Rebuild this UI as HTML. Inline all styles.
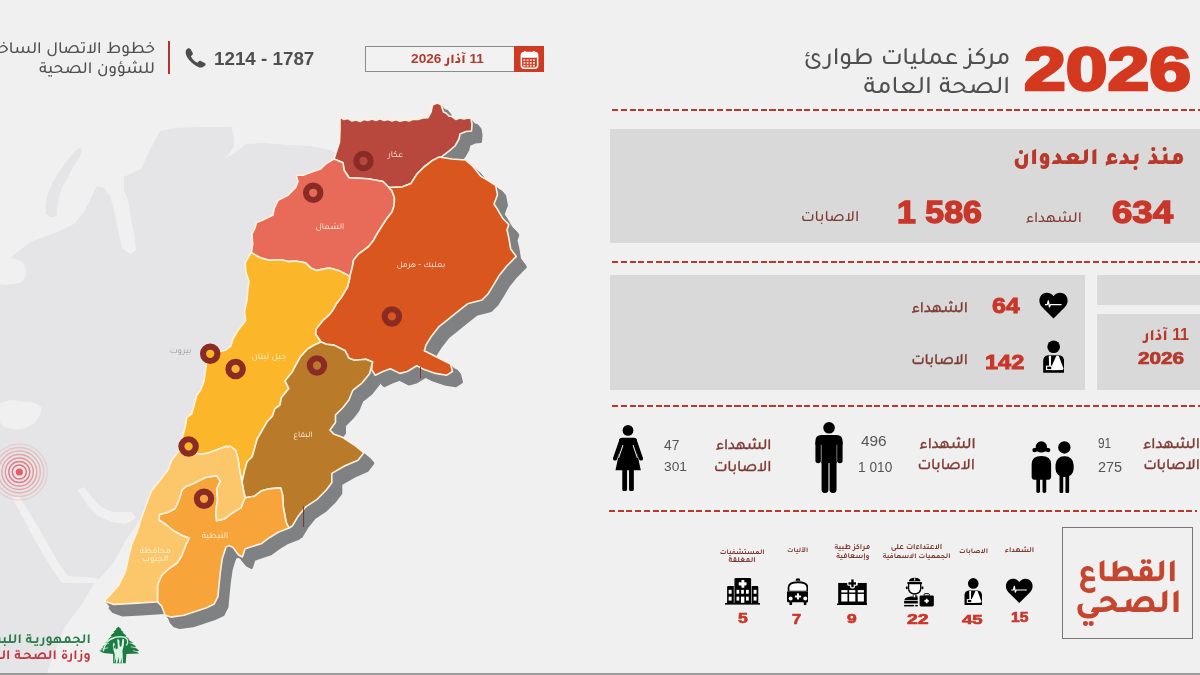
<!DOCTYPE html>
<html lang="ar">
<head>
<meta charset="utf-8">
<title>مركز عمليات طوارئ الصحة العامة</title>
<style>
html,body{margin:0;padding:0;}
body{width:1200px;height:675px;overflow:hidden;position:relative;background:#f0f0f0;
  font-family:"Liberation Sans","Tajawal","Noto Sans Arabic","DejaVu Sans",sans-serif;}
.a{position:absolute;white-space:nowrap;line-height:1;}
.r{direction:rtl;}
.box{position:absolute;background:#d9d9d9;}
.dash{position:absolute;left:612px;width:588px;height:2px;
  background:repeating-linear-gradient(90deg,#b5392d 0,#b5392d 6px,transparent 6px,transparent 8.75px);}
.num{font-weight:700;color:#c9372a;}
.lab{color:#7d3a33;font-weight:500;}
.g{color:#555;}
.dg{-webkit-text-stroke:0.045em currentColor;}
svg{position:absolute;left:0;top:0;}
</style>
</head>
<body>
<!--MAPSTART--><svg width="620" height="675" viewBox="0 0 620 675">
<g fill="#e5e5e7">
<path d="M0,266 L30,242 L60,231 L74,224 L84,212 L90,200 L97,186 L104,188 L110,196 L114,210 L118,230 L122,248 L130,254 L136,250 L134,232 L130,214 L128,200 L124,190 L124,177 L134,172 L142,168 L146,158 L152,146 L160,131 L175,128 L200,127 L231,127 L234,138 L234,146 L226,158 L236,152 L246,144 L262,143 L290,145 L310,146 L330,150 L345,160 L330,260 L250,330 L220,400 L180,450 L140,520 L126,540 L114,562 L102,576 L94,584 L82,604 L64,628 L46,675 L0,675 Z"/>
<path d="M77,149 Q84,146 80,156 Q70,172 62,188 Q56,205 57,215 Q52,220 46,214 Q44,200 52,184 Q62,165 77,149 Z"/>
</g>
<g fill="#f0f0f0">
<path d="M0,403 Q10,398 22,402 Q34,400 42,408 Q40,420 30,426 Q18,432 8,428 Q0,426 0,420 Z"/>
<path d="M0,258 Q12,256 22,262 Q30,272 22,282 Q10,286 0,284 Z"/>
<path d="M12,497 L19,496 L40,530 L58,562 L68,576 L97,578 L98,583 L62,583 L50,566 L32,535 Z"/>
<path d="M78,490 L84,487 L92,497 L100,506 L112,512 L124,512 L132,512 L136,518 L126,524 L112,522 L98,516 L88,506 Z"/>
</g>
<g fill="none" stroke-width="1.4">
<circle cx="19.3" cy="472" r="7" stroke="#e25b63" stroke-opacity="0.85"/>
<circle cx="19.3" cy="472" r="10.5" stroke="#e25b63" stroke-opacity="0.75"/>
<circle cx="19.3" cy="472" r="14" stroke="#e25b63" stroke-opacity="0.6"/>
<circle cx="19.3" cy="472" r="17.5" stroke="#e25b63" stroke-opacity="0.48"/>
<circle cx="19.3" cy="472" r="21" stroke="#e25b63" stroke-opacity="0.36"/>
<circle cx="19.3" cy="472" r="24.5" stroke="#e25b63" stroke-opacity="0.25"/>
<circle cx="19.3" cy="472" r="28" stroke="#e25b63" stroke-opacity="0.15"/>
</g>
<circle cx="19.3" cy="472" r="3.6" fill="#e45d66"/>
<g fill="#7f8183">
<polygon transform="translate(1.00,1.17)" points="340,117 344,119.5 348,118.5 352,121 356,120 360,121.5 364,119.5 368,120.5 372,119 376,120.5 380,118.8 384,120.5 388,119.5 392,121 396,119.8 400,121.2 405,120 409,121 413,119.3 418,119.5 423,118 428,117.6 431,112 432.5,105 437,103 441,104.5 443.5,112 446,113 449,116 452,116.5 456,119.5 460,118 464,119 468,118 471,118.5 472,124 471.5,131 466,131.5 460,134 459,139 455,146 448.6,151.4 440.8,157.3 432,160.8 424,167 417,174 411,183.4 402,187 389,187.5 383,181.5 368,178.7 349,177.8 344,170 343,162.7 334,159 337,150 339.5,142 340,130"/>
<polygon transform="translate(1.00,1.17)" points="334,159 343,162.7 344,170 349,177.8 368,178.7 383,181.5 389,187.5 392,191 394.5,198 394,206 392,212 386.5,219 382,226 377,234 373.6,240.2 368.6,246.5 363.5,250.3 358.5,254 353.5,260.3 352.2,267.9 349.7,276.7 345.9,274.2 338.4,270.4 329.5,267.9 317,270.4 310.6,267.9 305.6,262.9 295.5,261 288,261.6 281.7,259.7 269,260.3 260.3,257.8 251.4,252.8 252.7,244 252,234 255.2,227.6 256.5,222.6 262.8,220 269,217 273,215 274,209 278,200.4 288,195.3 295.5,187.8 298,181.5 296.2,175.2 303,175.2 313.2,171.4 320.7,168.9 325.8,163.9"/>
<polygon transform="translate(1.00,1.17)" points="389,187.5 402,187 411,183.4 417,174 424,167 432,160.8 439,157 452,159 465.5,160 473,166.5 480.6,176 489,181 495.6,185.3 497.5,194.7 494,204 497.5,209.4 503,218.8 508.8,224.5 507,230 508.8,237.6 510.7,249 516.3,256.4 507,265.8 499.4,275.2 493.8,284.7 488,294 482,300 467.5,303.8 458,311.3 448.7,318.8 439.3,326.3 431.8,335.7 426,345 424.3,350.8 431.8,354.5 443,360.2 450.6,364 452.5,371.5 446.8,375.2 435.5,373.4 424.3,369.6 416.7,365.8 407.3,371.5 399.8,373.4 390.4,368.7 382.9,371.5 375.3,375.2 371.6,369.6 372.5,362 366,359.3 354.6,360.2 349,358.3 345.2,350.8 334,345.1 326.4,344.2 321,342 315.5,334 316,329 322.7,320.7 328.7,315.2 332,311.3 336.2,304 341.9,296.4 347.5,287 349.4,279.5 349.7,276.7 352.2,267.9 353.5,260.3 358.5,254 363.5,250.3 368.6,246.5 373.6,240.2 377,234 382,226 386.5,219 392,212 394,206 394.5,198 392,191"/>
<polygon transform="translate(1.00,1.17)" points="251.4,252.8 260.3,257.8 269,260.3 281.7,259.7 288,261.6 295.5,261 305.6,262.9 310.6,267.9 317,270.4 329.5,267.9 338.4,270.4 345.9,274.2 349.7,276.7 349.4,279.5 347.5,287 341.9,296.4 336.2,304 332,311.3 328.7,315.2 322.7,320.7 316,329 315.5,334 321,342 313.7,345.3 307.6,349 300.5,356.6 294.8,367 292.6,371.5 285,380.9 288.8,388.4 281.3,397.8 280,405 274.8,408.9 272.3,416.4 267.3,421.4 262.2,430.3 257.2,439 254.7,447.9 252.2,456.7 247.1,461.8 244.6,470.6 242,482 239.6,470.6 238.3,460.5 235.8,450.4 230.8,446.6 225.7,446.6 218.2,449.2 208,453 200.5,454.2 193,453 186,451 179.5,450 180.4,442.9 182.9,435.3 185.4,426.5 186.7,417.7 191.7,413.9 194.2,405 196.8,395 200.4,390.5 204.2,380.5 205.4,370.4 206.7,361.6 210,355 219.3,351.5 225.6,350.2 230.6,346.4 233.1,338.9 238.2,330 245.7,320.5 244.5,311.5 247,300 247.7,290.6 249,281.7 245.8,271.7 245.2,262.9 250.2,254"/>
<polygon transform="translate(1.00,1.17)" points="321,342 326.4,344.2 334,345.1 345.2,350.8 349,358.3 354.6,360.2 366,359.3 372.5,362 369.7,373.4 362.2,382.8 352.8,390.3 349,399.7 343,407.5 335.5,415 335.5,422.6 329.9,430 333.7,433.9 343,437.6 354.3,445 363.8,452.7 358,460.2 345,465.8 331.8,473.4 331.8,482.8 326.1,490.3 316.7,499.7 305.4,507.2 297.9,516.6 292.3,526 289,528 286.2,522.7 283.4,507.6 282.5,494.5 280.6,487.9 269.3,488.8 261.8,490.7 254.2,496.3 245.2,497.8 243.4,490 242,482 244.6,470.6 247.1,461.8 252.2,456.7 254.7,447.9 257.2,439 262.2,430.3 267.3,421.4 272.3,416.4 274.8,408.9 280,405 281.3,397.8 288.8,388.4 285,380.9 292.6,371.5 294.8,367 300.5,356.6 307.6,349 313.7,345.3"/>
<polygon transform="translate(1.00,1.17)" points="216.6,475.6 220.4,481.3 216.6,488.8 217.6,500 215.7,511.4 216.6,520.8 224.2,519 231.7,513.3 241,507.6 244.8,498.2 245.2,497.8 254.2,496.3 261.8,490.7 269.3,488.8 280.6,487.9 282.5,494.5 283.4,507.6 286.2,522.7 289,528 278.7,532 269.3,537.7 261.8,543.4 250.5,547.1 245,549 242.4,557 238.6,555 233,547.5 229.2,545.6 226,547.1 222.3,558.4 220.4,571.6 219,585 218,596.4 214.2,604 206.6,607.7 195.3,611.5 184,615.2 170.9,617.1 165.2,615.2 161.5,605.8 157.5,602 157.5,585 161.5,575.5 169,568.5 177,563 181.5,556 185.5,546 189,538 182.5,535.8 173,530.5 165.8,524.5 159,520 159.5,514.5 168,512.3 175,508.5 179,500 182,490 186,486.5 194,483.2 205.3,477.5"/>
<polygon transform="translate(1.00,1.17)" points="179.5,450 186,451 193,453 200.5,454.2 208,453 218.2,449.2 225.7,446.6 230.8,446.6 235.8,450.4 238.3,460.5 239.6,470.6 242,482 243.4,490 245.2,497.8 244.8,498.2 241,507.6 231.7,513.3 224.2,519 216.6,520.8 215.7,511.4 217.6,500 216.6,488.8 220.4,481.3 216.6,475.6 205.3,477.5 194,483.2 186,486.5 182,490 179,500 175,508.5 168,512.3 159.5,514.5 159,520 165.8,524.5 173,530.5 182.5,535.8 189,538 185.5,546 181.5,556 177,563 169,568.5 161.5,575.5 157.5,585 157.5,602 151.6,602.2 132.7,603.4 113.7,604.5 104.2,601 109,596.3 118.4,585.6 125.5,571.4 129.1,554.8 131.5,545.3 137.4,531 141,519.2 146.9,502.7 151.6,490.8 161,479 168.2,469.5 171.8,460 175.3,455.5"/>
<polygon transform="translate(2.00,2.34)" points="340,117 344,119.5 348,118.5 352,121 356,120 360,121.5 364,119.5 368,120.5 372,119 376,120.5 380,118.8 384,120.5 388,119.5 392,121 396,119.8 400,121.2 405,120 409,121 413,119.3 418,119.5 423,118 428,117.6 431,112 432.5,105 437,103 441,104.5 443.5,112 446,113 449,116 452,116.5 456,119.5 460,118 464,119 468,118 471,118.5 472,124 471.5,131 466,131.5 460,134 459,139 455,146 448.6,151.4 440.8,157.3 432,160.8 424,167 417,174 411,183.4 402,187 389,187.5 383,181.5 368,178.7 349,177.8 344,170 343,162.7 334,159 337,150 339.5,142 340,130"/>
<polygon transform="translate(2.00,2.34)" points="334,159 343,162.7 344,170 349,177.8 368,178.7 383,181.5 389,187.5 392,191 394.5,198 394,206 392,212 386.5,219 382,226 377,234 373.6,240.2 368.6,246.5 363.5,250.3 358.5,254 353.5,260.3 352.2,267.9 349.7,276.7 345.9,274.2 338.4,270.4 329.5,267.9 317,270.4 310.6,267.9 305.6,262.9 295.5,261 288,261.6 281.7,259.7 269,260.3 260.3,257.8 251.4,252.8 252.7,244 252,234 255.2,227.6 256.5,222.6 262.8,220 269,217 273,215 274,209 278,200.4 288,195.3 295.5,187.8 298,181.5 296.2,175.2 303,175.2 313.2,171.4 320.7,168.9 325.8,163.9"/>
<polygon transform="translate(2.00,2.34)" points="389,187.5 402,187 411,183.4 417,174 424,167 432,160.8 439,157 452,159 465.5,160 473,166.5 480.6,176 489,181 495.6,185.3 497.5,194.7 494,204 497.5,209.4 503,218.8 508.8,224.5 507,230 508.8,237.6 510.7,249 516.3,256.4 507,265.8 499.4,275.2 493.8,284.7 488,294 482,300 467.5,303.8 458,311.3 448.7,318.8 439.3,326.3 431.8,335.7 426,345 424.3,350.8 431.8,354.5 443,360.2 450.6,364 452.5,371.5 446.8,375.2 435.5,373.4 424.3,369.6 416.7,365.8 407.3,371.5 399.8,373.4 390.4,368.7 382.9,371.5 375.3,375.2 371.6,369.6 372.5,362 366,359.3 354.6,360.2 349,358.3 345.2,350.8 334,345.1 326.4,344.2 321,342 315.5,334 316,329 322.7,320.7 328.7,315.2 332,311.3 336.2,304 341.9,296.4 347.5,287 349.4,279.5 349.7,276.7 352.2,267.9 353.5,260.3 358.5,254 363.5,250.3 368.6,246.5 373.6,240.2 377,234 382,226 386.5,219 392,212 394,206 394.5,198 392,191"/>
<polygon transform="translate(2.00,2.34)" points="251.4,252.8 260.3,257.8 269,260.3 281.7,259.7 288,261.6 295.5,261 305.6,262.9 310.6,267.9 317,270.4 329.5,267.9 338.4,270.4 345.9,274.2 349.7,276.7 349.4,279.5 347.5,287 341.9,296.4 336.2,304 332,311.3 328.7,315.2 322.7,320.7 316,329 315.5,334 321,342 313.7,345.3 307.6,349 300.5,356.6 294.8,367 292.6,371.5 285,380.9 288.8,388.4 281.3,397.8 280,405 274.8,408.9 272.3,416.4 267.3,421.4 262.2,430.3 257.2,439 254.7,447.9 252.2,456.7 247.1,461.8 244.6,470.6 242,482 239.6,470.6 238.3,460.5 235.8,450.4 230.8,446.6 225.7,446.6 218.2,449.2 208,453 200.5,454.2 193,453 186,451 179.5,450 180.4,442.9 182.9,435.3 185.4,426.5 186.7,417.7 191.7,413.9 194.2,405 196.8,395 200.4,390.5 204.2,380.5 205.4,370.4 206.7,361.6 210,355 219.3,351.5 225.6,350.2 230.6,346.4 233.1,338.9 238.2,330 245.7,320.5 244.5,311.5 247,300 247.7,290.6 249,281.7 245.8,271.7 245.2,262.9 250.2,254"/>
<polygon transform="translate(2.00,2.34)" points="321,342 326.4,344.2 334,345.1 345.2,350.8 349,358.3 354.6,360.2 366,359.3 372.5,362 369.7,373.4 362.2,382.8 352.8,390.3 349,399.7 343,407.5 335.5,415 335.5,422.6 329.9,430 333.7,433.9 343,437.6 354.3,445 363.8,452.7 358,460.2 345,465.8 331.8,473.4 331.8,482.8 326.1,490.3 316.7,499.7 305.4,507.2 297.9,516.6 292.3,526 289,528 286.2,522.7 283.4,507.6 282.5,494.5 280.6,487.9 269.3,488.8 261.8,490.7 254.2,496.3 245.2,497.8 243.4,490 242,482 244.6,470.6 247.1,461.8 252.2,456.7 254.7,447.9 257.2,439 262.2,430.3 267.3,421.4 272.3,416.4 274.8,408.9 280,405 281.3,397.8 288.8,388.4 285,380.9 292.6,371.5 294.8,367 300.5,356.6 307.6,349 313.7,345.3"/>
<polygon transform="translate(2.00,2.34)" points="216.6,475.6 220.4,481.3 216.6,488.8 217.6,500 215.7,511.4 216.6,520.8 224.2,519 231.7,513.3 241,507.6 244.8,498.2 245.2,497.8 254.2,496.3 261.8,490.7 269.3,488.8 280.6,487.9 282.5,494.5 283.4,507.6 286.2,522.7 289,528 278.7,532 269.3,537.7 261.8,543.4 250.5,547.1 245,549 242.4,557 238.6,555 233,547.5 229.2,545.6 226,547.1 222.3,558.4 220.4,571.6 219,585 218,596.4 214.2,604 206.6,607.7 195.3,611.5 184,615.2 170.9,617.1 165.2,615.2 161.5,605.8 157.5,602 157.5,585 161.5,575.5 169,568.5 177,563 181.5,556 185.5,546 189,538 182.5,535.8 173,530.5 165.8,524.5 159,520 159.5,514.5 168,512.3 175,508.5 179,500 182,490 186,486.5 194,483.2 205.3,477.5"/>
<polygon transform="translate(2.00,2.34)" points="179.5,450 186,451 193,453 200.5,454.2 208,453 218.2,449.2 225.7,446.6 230.8,446.6 235.8,450.4 238.3,460.5 239.6,470.6 242,482 243.4,490 245.2,497.8 244.8,498.2 241,507.6 231.7,513.3 224.2,519 216.6,520.8 215.7,511.4 217.6,500 216.6,488.8 220.4,481.3 216.6,475.6 205.3,477.5 194,483.2 186,486.5 182,490 179,500 175,508.5 168,512.3 159.5,514.5 159,520 165.8,524.5 173,530.5 182.5,535.8 189,538 185.5,546 181.5,556 177,563 169,568.5 161.5,575.5 157.5,585 157.5,602 151.6,602.2 132.7,603.4 113.7,604.5 104.2,601 109,596.3 118.4,585.6 125.5,571.4 129.1,554.8 131.5,545.3 137.4,531 141,519.2 146.9,502.7 151.6,490.8 161,479 168.2,469.5 171.8,460 175.3,455.5"/>
<polygon transform="translate(3.00,3.51)" points="340,117 344,119.5 348,118.5 352,121 356,120 360,121.5 364,119.5 368,120.5 372,119 376,120.5 380,118.8 384,120.5 388,119.5 392,121 396,119.8 400,121.2 405,120 409,121 413,119.3 418,119.5 423,118 428,117.6 431,112 432.5,105 437,103 441,104.5 443.5,112 446,113 449,116 452,116.5 456,119.5 460,118 464,119 468,118 471,118.5 472,124 471.5,131 466,131.5 460,134 459,139 455,146 448.6,151.4 440.8,157.3 432,160.8 424,167 417,174 411,183.4 402,187 389,187.5 383,181.5 368,178.7 349,177.8 344,170 343,162.7 334,159 337,150 339.5,142 340,130"/>
<polygon transform="translate(3.00,3.51)" points="334,159 343,162.7 344,170 349,177.8 368,178.7 383,181.5 389,187.5 392,191 394.5,198 394,206 392,212 386.5,219 382,226 377,234 373.6,240.2 368.6,246.5 363.5,250.3 358.5,254 353.5,260.3 352.2,267.9 349.7,276.7 345.9,274.2 338.4,270.4 329.5,267.9 317,270.4 310.6,267.9 305.6,262.9 295.5,261 288,261.6 281.7,259.7 269,260.3 260.3,257.8 251.4,252.8 252.7,244 252,234 255.2,227.6 256.5,222.6 262.8,220 269,217 273,215 274,209 278,200.4 288,195.3 295.5,187.8 298,181.5 296.2,175.2 303,175.2 313.2,171.4 320.7,168.9 325.8,163.9"/>
<polygon transform="translate(3.00,3.51)" points="389,187.5 402,187 411,183.4 417,174 424,167 432,160.8 439,157 452,159 465.5,160 473,166.5 480.6,176 489,181 495.6,185.3 497.5,194.7 494,204 497.5,209.4 503,218.8 508.8,224.5 507,230 508.8,237.6 510.7,249 516.3,256.4 507,265.8 499.4,275.2 493.8,284.7 488,294 482,300 467.5,303.8 458,311.3 448.7,318.8 439.3,326.3 431.8,335.7 426,345 424.3,350.8 431.8,354.5 443,360.2 450.6,364 452.5,371.5 446.8,375.2 435.5,373.4 424.3,369.6 416.7,365.8 407.3,371.5 399.8,373.4 390.4,368.7 382.9,371.5 375.3,375.2 371.6,369.6 372.5,362 366,359.3 354.6,360.2 349,358.3 345.2,350.8 334,345.1 326.4,344.2 321,342 315.5,334 316,329 322.7,320.7 328.7,315.2 332,311.3 336.2,304 341.9,296.4 347.5,287 349.4,279.5 349.7,276.7 352.2,267.9 353.5,260.3 358.5,254 363.5,250.3 368.6,246.5 373.6,240.2 377,234 382,226 386.5,219 392,212 394,206 394.5,198 392,191"/>
<polygon transform="translate(3.00,3.51)" points="251.4,252.8 260.3,257.8 269,260.3 281.7,259.7 288,261.6 295.5,261 305.6,262.9 310.6,267.9 317,270.4 329.5,267.9 338.4,270.4 345.9,274.2 349.7,276.7 349.4,279.5 347.5,287 341.9,296.4 336.2,304 332,311.3 328.7,315.2 322.7,320.7 316,329 315.5,334 321,342 313.7,345.3 307.6,349 300.5,356.6 294.8,367 292.6,371.5 285,380.9 288.8,388.4 281.3,397.8 280,405 274.8,408.9 272.3,416.4 267.3,421.4 262.2,430.3 257.2,439 254.7,447.9 252.2,456.7 247.1,461.8 244.6,470.6 242,482 239.6,470.6 238.3,460.5 235.8,450.4 230.8,446.6 225.7,446.6 218.2,449.2 208,453 200.5,454.2 193,453 186,451 179.5,450 180.4,442.9 182.9,435.3 185.4,426.5 186.7,417.7 191.7,413.9 194.2,405 196.8,395 200.4,390.5 204.2,380.5 205.4,370.4 206.7,361.6 210,355 219.3,351.5 225.6,350.2 230.6,346.4 233.1,338.9 238.2,330 245.7,320.5 244.5,311.5 247,300 247.7,290.6 249,281.7 245.8,271.7 245.2,262.9 250.2,254"/>
<polygon transform="translate(3.00,3.51)" points="321,342 326.4,344.2 334,345.1 345.2,350.8 349,358.3 354.6,360.2 366,359.3 372.5,362 369.7,373.4 362.2,382.8 352.8,390.3 349,399.7 343,407.5 335.5,415 335.5,422.6 329.9,430 333.7,433.9 343,437.6 354.3,445 363.8,452.7 358,460.2 345,465.8 331.8,473.4 331.8,482.8 326.1,490.3 316.7,499.7 305.4,507.2 297.9,516.6 292.3,526 289,528 286.2,522.7 283.4,507.6 282.5,494.5 280.6,487.9 269.3,488.8 261.8,490.7 254.2,496.3 245.2,497.8 243.4,490 242,482 244.6,470.6 247.1,461.8 252.2,456.7 254.7,447.9 257.2,439 262.2,430.3 267.3,421.4 272.3,416.4 274.8,408.9 280,405 281.3,397.8 288.8,388.4 285,380.9 292.6,371.5 294.8,367 300.5,356.6 307.6,349 313.7,345.3"/>
<polygon transform="translate(3.00,3.51)" points="216.6,475.6 220.4,481.3 216.6,488.8 217.6,500 215.7,511.4 216.6,520.8 224.2,519 231.7,513.3 241,507.6 244.8,498.2 245.2,497.8 254.2,496.3 261.8,490.7 269.3,488.8 280.6,487.9 282.5,494.5 283.4,507.6 286.2,522.7 289,528 278.7,532 269.3,537.7 261.8,543.4 250.5,547.1 245,549 242.4,557 238.6,555 233,547.5 229.2,545.6 226,547.1 222.3,558.4 220.4,571.6 219,585 218,596.4 214.2,604 206.6,607.7 195.3,611.5 184,615.2 170.9,617.1 165.2,615.2 161.5,605.8 157.5,602 157.5,585 161.5,575.5 169,568.5 177,563 181.5,556 185.5,546 189,538 182.5,535.8 173,530.5 165.8,524.5 159,520 159.5,514.5 168,512.3 175,508.5 179,500 182,490 186,486.5 194,483.2 205.3,477.5"/>
<polygon transform="translate(3.00,3.51)" points="179.5,450 186,451 193,453 200.5,454.2 208,453 218.2,449.2 225.7,446.6 230.8,446.6 235.8,450.4 238.3,460.5 239.6,470.6 242,482 243.4,490 245.2,497.8 244.8,498.2 241,507.6 231.7,513.3 224.2,519 216.6,520.8 215.7,511.4 217.6,500 216.6,488.8 220.4,481.3 216.6,475.6 205.3,477.5 194,483.2 186,486.5 182,490 179,500 175,508.5 168,512.3 159.5,514.5 159,520 165.8,524.5 173,530.5 182.5,535.8 189,538 185.5,546 181.5,556 177,563 169,568.5 161.5,575.5 157.5,585 157.5,602 151.6,602.2 132.7,603.4 113.7,604.5 104.2,601 109,596.3 118.4,585.6 125.5,571.4 129.1,554.8 131.5,545.3 137.4,531 141,519.2 146.9,502.7 151.6,490.8 161,479 168.2,469.5 171.8,460 175.3,455.5"/>
<polygon transform="translate(4.00,4.68)" points="340,117 344,119.5 348,118.5 352,121 356,120 360,121.5 364,119.5 368,120.5 372,119 376,120.5 380,118.8 384,120.5 388,119.5 392,121 396,119.8 400,121.2 405,120 409,121 413,119.3 418,119.5 423,118 428,117.6 431,112 432.5,105 437,103 441,104.5 443.5,112 446,113 449,116 452,116.5 456,119.5 460,118 464,119 468,118 471,118.5 472,124 471.5,131 466,131.5 460,134 459,139 455,146 448.6,151.4 440.8,157.3 432,160.8 424,167 417,174 411,183.4 402,187 389,187.5 383,181.5 368,178.7 349,177.8 344,170 343,162.7 334,159 337,150 339.5,142 340,130"/>
<polygon transform="translate(4.00,4.68)" points="334,159 343,162.7 344,170 349,177.8 368,178.7 383,181.5 389,187.5 392,191 394.5,198 394,206 392,212 386.5,219 382,226 377,234 373.6,240.2 368.6,246.5 363.5,250.3 358.5,254 353.5,260.3 352.2,267.9 349.7,276.7 345.9,274.2 338.4,270.4 329.5,267.9 317,270.4 310.6,267.9 305.6,262.9 295.5,261 288,261.6 281.7,259.7 269,260.3 260.3,257.8 251.4,252.8 252.7,244 252,234 255.2,227.6 256.5,222.6 262.8,220 269,217 273,215 274,209 278,200.4 288,195.3 295.5,187.8 298,181.5 296.2,175.2 303,175.2 313.2,171.4 320.7,168.9 325.8,163.9"/>
<polygon transform="translate(4.00,4.68)" points="389,187.5 402,187 411,183.4 417,174 424,167 432,160.8 439,157 452,159 465.5,160 473,166.5 480.6,176 489,181 495.6,185.3 497.5,194.7 494,204 497.5,209.4 503,218.8 508.8,224.5 507,230 508.8,237.6 510.7,249 516.3,256.4 507,265.8 499.4,275.2 493.8,284.7 488,294 482,300 467.5,303.8 458,311.3 448.7,318.8 439.3,326.3 431.8,335.7 426,345 424.3,350.8 431.8,354.5 443,360.2 450.6,364 452.5,371.5 446.8,375.2 435.5,373.4 424.3,369.6 416.7,365.8 407.3,371.5 399.8,373.4 390.4,368.7 382.9,371.5 375.3,375.2 371.6,369.6 372.5,362 366,359.3 354.6,360.2 349,358.3 345.2,350.8 334,345.1 326.4,344.2 321,342 315.5,334 316,329 322.7,320.7 328.7,315.2 332,311.3 336.2,304 341.9,296.4 347.5,287 349.4,279.5 349.7,276.7 352.2,267.9 353.5,260.3 358.5,254 363.5,250.3 368.6,246.5 373.6,240.2 377,234 382,226 386.5,219 392,212 394,206 394.5,198 392,191"/>
<polygon transform="translate(4.00,4.68)" points="251.4,252.8 260.3,257.8 269,260.3 281.7,259.7 288,261.6 295.5,261 305.6,262.9 310.6,267.9 317,270.4 329.5,267.9 338.4,270.4 345.9,274.2 349.7,276.7 349.4,279.5 347.5,287 341.9,296.4 336.2,304 332,311.3 328.7,315.2 322.7,320.7 316,329 315.5,334 321,342 313.7,345.3 307.6,349 300.5,356.6 294.8,367 292.6,371.5 285,380.9 288.8,388.4 281.3,397.8 280,405 274.8,408.9 272.3,416.4 267.3,421.4 262.2,430.3 257.2,439 254.7,447.9 252.2,456.7 247.1,461.8 244.6,470.6 242,482 239.6,470.6 238.3,460.5 235.8,450.4 230.8,446.6 225.7,446.6 218.2,449.2 208,453 200.5,454.2 193,453 186,451 179.5,450 180.4,442.9 182.9,435.3 185.4,426.5 186.7,417.7 191.7,413.9 194.2,405 196.8,395 200.4,390.5 204.2,380.5 205.4,370.4 206.7,361.6 210,355 219.3,351.5 225.6,350.2 230.6,346.4 233.1,338.9 238.2,330 245.7,320.5 244.5,311.5 247,300 247.7,290.6 249,281.7 245.8,271.7 245.2,262.9 250.2,254"/>
<polygon transform="translate(4.00,4.68)" points="321,342 326.4,344.2 334,345.1 345.2,350.8 349,358.3 354.6,360.2 366,359.3 372.5,362 369.7,373.4 362.2,382.8 352.8,390.3 349,399.7 343,407.5 335.5,415 335.5,422.6 329.9,430 333.7,433.9 343,437.6 354.3,445 363.8,452.7 358,460.2 345,465.8 331.8,473.4 331.8,482.8 326.1,490.3 316.7,499.7 305.4,507.2 297.9,516.6 292.3,526 289,528 286.2,522.7 283.4,507.6 282.5,494.5 280.6,487.9 269.3,488.8 261.8,490.7 254.2,496.3 245.2,497.8 243.4,490 242,482 244.6,470.6 247.1,461.8 252.2,456.7 254.7,447.9 257.2,439 262.2,430.3 267.3,421.4 272.3,416.4 274.8,408.9 280,405 281.3,397.8 288.8,388.4 285,380.9 292.6,371.5 294.8,367 300.5,356.6 307.6,349 313.7,345.3"/>
<polygon transform="translate(4.00,4.68)" points="216.6,475.6 220.4,481.3 216.6,488.8 217.6,500 215.7,511.4 216.6,520.8 224.2,519 231.7,513.3 241,507.6 244.8,498.2 245.2,497.8 254.2,496.3 261.8,490.7 269.3,488.8 280.6,487.9 282.5,494.5 283.4,507.6 286.2,522.7 289,528 278.7,532 269.3,537.7 261.8,543.4 250.5,547.1 245,549 242.4,557 238.6,555 233,547.5 229.2,545.6 226,547.1 222.3,558.4 220.4,571.6 219,585 218,596.4 214.2,604 206.6,607.7 195.3,611.5 184,615.2 170.9,617.1 165.2,615.2 161.5,605.8 157.5,602 157.5,585 161.5,575.5 169,568.5 177,563 181.5,556 185.5,546 189,538 182.5,535.8 173,530.5 165.8,524.5 159,520 159.5,514.5 168,512.3 175,508.5 179,500 182,490 186,486.5 194,483.2 205.3,477.5"/>
<polygon transform="translate(4.00,4.68)" points="179.5,450 186,451 193,453 200.5,454.2 208,453 218.2,449.2 225.7,446.6 230.8,446.6 235.8,450.4 238.3,460.5 239.6,470.6 242,482 243.4,490 245.2,497.8 244.8,498.2 241,507.6 231.7,513.3 224.2,519 216.6,520.8 215.7,511.4 217.6,500 216.6,488.8 220.4,481.3 216.6,475.6 205.3,477.5 194,483.2 186,486.5 182,490 179,500 175,508.5 168,512.3 159.5,514.5 159,520 165.8,524.5 173,530.5 182.5,535.8 189,538 185.5,546 181.5,556 177,563 169,568.5 161.5,575.5 157.5,585 157.5,602 151.6,602.2 132.7,603.4 113.7,604.5 104.2,601 109,596.3 118.4,585.6 125.5,571.4 129.1,554.8 131.5,545.3 137.4,531 141,519.2 146.9,502.7 151.6,490.8 161,479 168.2,469.5 171.8,460 175.3,455.5"/>
<polygon transform="translate(5.00,5.85)" points="340,117 344,119.5 348,118.5 352,121 356,120 360,121.5 364,119.5 368,120.5 372,119 376,120.5 380,118.8 384,120.5 388,119.5 392,121 396,119.8 400,121.2 405,120 409,121 413,119.3 418,119.5 423,118 428,117.6 431,112 432.5,105 437,103 441,104.5 443.5,112 446,113 449,116 452,116.5 456,119.5 460,118 464,119 468,118 471,118.5 472,124 471.5,131 466,131.5 460,134 459,139 455,146 448.6,151.4 440.8,157.3 432,160.8 424,167 417,174 411,183.4 402,187 389,187.5 383,181.5 368,178.7 349,177.8 344,170 343,162.7 334,159 337,150 339.5,142 340,130"/>
<polygon transform="translate(5.00,5.85)" points="334,159 343,162.7 344,170 349,177.8 368,178.7 383,181.5 389,187.5 392,191 394.5,198 394,206 392,212 386.5,219 382,226 377,234 373.6,240.2 368.6,246.5 363.5,250.3 358.5,254 353.5,260.3 352.2,267.9 349.7,276.7 345.9,274.2 338.4,270.4 329.5,267.9 317,270.4 310.6,267.9 305.6,262.9 295.5,261 288,261.6 281.7,259.7 269,260.3 260.3,257.8 251.4,252.8 252.7,244 252,234 255.2,227.6 256.5,222.6 262.8,220 269,217 273,215 274,209 278,200.4 288,195.3 295.5,187.8 298,181.5 296.2,175.2 303,175.2 313.2,171.4 320.7,168.9 325.8,163.9"/>
<polygon transform="translate(5.00,5.85)" points="389,187.5 402,187 411,183.4 417,174 424,167 432,160.8 439,157 452,159 465.5,160 473,166.5 480.6,176 489,181 495.6,185.3 497.5,194.7 494,204 497.5,209.4 503,218.8 508.8,224.5 507,230 508.8,237.6 510.7,249 516.3,256.4 507,265.8 499.4,275.2 493.8,284.7 488,294 482,300 467.5,303.8 458,311.3 448.7,318.8 439.3,326.3 431.8,335.7 426,345 424.3,350.8 431.8,354.5 443,360.2 450.6,364 452.5,371.5 446.8,375.2 435.5,373.4 424.3,369.6 416.7,365.8 407.3,371.5 399.8,373.4 390.4,368.7 382.9,371.5 375.3,375.2 371.6,369.6 372.5,362 366,359.3 354.6,360.2 349,358.3 345.2,350.8 334,345.1 326.4,344.2 321,342 315.5,334 316,329 322.7,320.7 328.7,315.2 332,311.3 336.2,304 341.9,296.4 347.5,287 349.4,279.5 349.7,276.7 352.2,267.9 353.5,260.3 358.5,254 363.5,250.3 368.6,246.5 373.6,240.2 377,234 382,226 386.5,219 392,212 394,206 394.5,198 392,191"/>
<polygon transform="translate(5.00,5.85)" points="251.4,252.8 260.3,257.8 269,260.3 281.7,259.7 288,261.6 295.5,261 305.6,262.9 310.6,267.9 317,270.4 329.5,267.9 338.4,270.4 345.9,274.2 349.7,276.7 349.4,279.5 347.5,287 341.9,296.4 336.2,304 332,311.3 328.7,315.2 322.7,320.7 316,329 315.5,334 321,342 313.7,345.3 307.6,349 300.5,356.6 294.8,367 292.6,371.5 285,380.9 288.8,388.4 281.3,397.8 280,405 274.8,408.9 272.3,416.4 267.3,421.4 262.2,430.3 257.2,439 254.7,447.9 252.2,456.7 247.1,461.8 244.6,470.6 242,482 239.6,470.6 238.3,460.5 235.8,450.4 230.8,446.6 225.7,446.6 218.2,449.2 208,453 200.5,454.2 193,453 186,451 179.5,450 180.4,442.9 182.9,435.3 185.4,426.5 186.7,417.7 191.7,413.9 194.2,405 196.8,395 200.4,390.5 204.2,380.5 205.4,370.4 206.7,361.6 210,355 219.3,351.5 225.6,350.2 230.6,346.4 233.1,338.9 238.2,330 245.7,320.5 244.5,311.5 247,300 247.7,290.6 249,281.7 245.8,271.7 245.2,262.9 250.2,254"/>
<polygon transform="translate(5.00,5.85)" points="321,342 326.4,344.2 334,345.1 345.2,350.8 349,358.3 354.6,360.2 366,359.3 372.5,362 369.7,373.4 362.2,382.8 352.8,390.3 349,399.7 343,407.5 335.5,415 335.5,422.6 329.9,430 333.7,433.9 343,437.6 354.3,445 363.8,452.7 358,460.2 345,465.8 331.8,473.4 331.8,482.8 326.1,490.3 316.7,499.7 305.4,507.2 297.9,516.6 292.3,526 289,528 286.2,522.7 283.4,507.6 282.5,494.5 280.6,487.9 269.3,488.8 261.8,490.7 254.2,496.3 245.2,497.8 243.4,490 242,482 244.6,470.6 247.1,461.8 252.2,456.7 254.7,447.9 257.2,439 262.2,430.3 267.3,421.4 272.3,416.4 274.8,408.9 280,405 281.3,397.8 288.8,388.4 285,380.9 292.6,371.5 294.8,367 300.5,356.6 307.6,349 313.7,345.3"/>
<polygon transform="translate(5.00,5.85)" points="216.6,475.6 220.4,481.3 216.6,488.8 217.6,500 215.7,511.4 216.6,520.8 224.2,519 231.7,513.3 241,507.6 244.8,498.2 245.2,497.8 254.2,496.3 261.8,490.7 269.3,488.8 280.6,487.9 282.5,494.5 283.4,507.6 286.2,522.7 289,528 278.7,532 269.3,537.7 261.8,543.4 250.5,547.1 245,549 242.4,557 238.6,555 233,547.5 229.2,545.6 226,547.1 222.3,558.4 220.4,571.6 219,585 218,596.4 214.2,604 206.6,607.7 195.3,611.5 184,615.2 170.9,617.1 165.2,615.2 161.5,605.8 157.5,602 157.5,585 161.5,575.5 169,568.5 177,563 181.5,556 185.5,546 189,538 182.5,535.8 173,530.5 165.8,524.5 159,520 159.5,514.5 168,512.3 175,508.5 179,500 182,490 186,486.5 194,483.2 205.3,477.5"/>
<polygon transform="translate(5.00,5.85)" points="179.5,450 186,451 193,453 200.5,454.2 208,453 218.2,449.2 225.7,446.6 230.8,446.6 235.8,450.4 238.3,460.5 239.6,470.6 242,482 243.4,490 245.2,497.8 244.8,498.2 241,507.6 231.7,513.3 224.2,519 216.6,520.8 215.7,511.4 217.6,500 216.6,488.8 220.4,481.3 216.6,475.6 205.3,477.5 194,483.2 186,486.5 182,490 179,500 175,508.5 168,512.3 159.5,514.5 159,520 165.8,524.5 173,530.5 182.5,535.8 189,538 185.5,546 181.5,556 177,563 169,568.5 161.5,575.5 157.5,585 157.5,602 151.6,602.2 132.7,603.4 113.7,604.5 104.2,601 109,596.3 118.4,585.6 125.5,571.4 129.1,554.8 131.5,545.3 137.4,531 141,519.2 146.9,502.7 151.6,490.8 161,479 168.2,469.5 171.8,460 175.3,455.5"/>
<polygon transform="translate(6.00,7.02)" stroke="#7f8183" stroke-width="3" stroke-linejoin="round" points="340,117 344,119.5 348,118.5 352,121 356,120 360,121.5 364,119.5 368,120.5 372,119 376,120.5 380,118.8 384,120.5 388,119.5 392,121 396,119.8 400,121.2 405,120 409,121 413,119.3 418,119.5 423,118 428,117.6 431,112 432.5,105 437,103 441,104.5 443.5,112 446,113 449,116 452,116.5 456,119.5 460,118 464,119 468,118 471,118.5 472,124 471.5,131 466,131.5 460,134 459,139 455,146 448.6,151.4 440.8,157.3 432,160.8 424,167 417,174 411,183.4 402,187 389,187.5 383,181.5 368,178.7 349,177.8 344,170 343,162.7 334,159 337,150 339.5,142 340,130"/>
<polygon transform="translate(6.00,7.02)" stroke="#7f8183" stroke-width="3" stroke-linejoin="round" points="334,159 343,162.7 344,170 349,177.8 368,178.7 383,181.5 389,187.5 392,191 394.5,198 394,206 392,212 386.5,219 382,226 377,234 373.6,240.2 368.6,246.5 363.5,250.3 358.5,254 353.5,260.3 352.2,267.9 349.7,276.7 345.9,274.2 338.4,270.4 329.5,267.9 317,270.4 310.6,267.9 305.6,262.9 295.5,261 288,261.6 281.7,259.7 269,260.3 260.3,257.8 251.4,252.8 252.7,244 252,234 255.2,227.6 256.5,222.6 262.8,220 269,217 273,215 274,209 278,200.4 288,195.3 295.5,187.8 298,181.5 296.2,175.2 303,175.2 313.2,171.4 320.7,168.9 325.8,163.9"/>
<polygon transform="translate(6.00,7.02)" stroke="#7f8183" stroke-width="3" stroke-linejoin="round" points="389,187.5 402,187 411,183.4 417,174 424,167 432,160.8 439,157 452,159 465.5,160 473,166.5 480.6,176 489,181 495.6,185.3 497.5,194.7 494,204 497.5,209.4 503,218.8 508.8,224.5 507,230 508.8,237.6 510.7,249 516.3,256.4 507,265.8 499.4,275.2 493.8,284.7 488,294 482,300 467.5,303.8 458,311.3 448.7,318.8 439.3,326.3 431.8,335.7 426,345 424.3,350.8 431.8,354.5 443,360.2 450.6,364 452.5,371.5 446.8,375.2 435.5,373.4 424.3,369.6 416.7,365.8 407.3,371.5 399.8,373.4 390.4,368.7 382.9,371.5 375.3,375.2 371.6,369.6 372.5,362 366,359.3 354.6,360.2 349,358.3 345.2,350.8 334,345.1 326.4,344.2 321,342 315.5,334 316,329 322.7,320.7 328.7,315.2 332,311.3 336.2,304 341.9,296.4 347.5,287 349.4,279.5 349.7,276.7 352.2,267.9 353.5,260.3 358.5,254 363.5,250.3 368.6,246.5 373.6,240.2 377,234 382,226 386.5,219 392,212 394,206 394.5,198 392,191"/>
<polygon transform="translate(6.00,7.02)" stroke="#7f8183" stroke-width="3" stroke-linejoin="round" points="251.4,252.8 260.3,257.8 269,260.3 281.7,259.7 288,261.6 295.5,261 305.6,262.9 310.6,267.9 317,270.4 329.5,267.9 338.4,270.4 345.9,274.2 349.7,276.7 349.4,279.5 347.5,287 341.9,296.4 336.2,304 332,311.3 328.7,315.2 322.7,320.7 316,329 315.5,334 321,342 313.7,345.3 307.6,349 300.5,356.6 294.8,367 292.6,371.5 285,380.9 288.8,388.4 281.3,397.8 280,405 274.8,408.9 272.3,416.4 267.3,421.4 262.2,430.3 257.2,439 254.7,447.9 252.2,456.7 247.1,461.8 244.6,470.6 242,482 239.6,470.6 238.3,460.5 235.8,450.4 230.8,446.6 225.7,446.6 218.2,449.2 208,453 200.5,454.2 193,453 186,451 179.5,450 180.4,442.9 182.9,435.3 185.4,426.5 186.7,417.7 191.7,413.9 194.2,405 196.8,395 200.4,390.5 204.2,380.5 205.4,370.4 206.7,361.6 210,355 219.3,351.5 225.6,350.2 230.6,346.4 233.1,338.9 238.2,330 245.7,320.5 244.5,311.5 247,300 247.7,290.6 249,281.7 245.8,271.7 245.2,262.9 250.2,254"/>
<polygon transform="translate(6.00,7.02)" stroke="#7f8183" stroke-width="3" stroke-linejoin="round" points="321,342 326.4,344.2 334,345.1 345.2,350.8 349,358.3 354.6,360.2 366,359.3 372.5,362 369.7,373.4 362.2,382.8 352.8,390.3 349,399.7 343,407.5 335.5,415 335.5,422.6 329.9,430 333.7,433.9 343,437.6 354.3,445 363.8,452.7 358,460.2 345,465.8 331.8,473.4 331.8,482.8 326.1,490.3 316.7,499.7 305.4,507.2 297.9,516.6 292.3,526 289,528 286.2,522.7 283.4,507.6 282.5,494.5 280.6,487.9 269.3,488.8 261.8,490.7 254.2,496.3 245.2,497.8 243.4,490 242,482 244.6,470.6 247.1,461.8 252.2,456.7 254.7,447.9 257.2,439 262.2,430.3 267.3,421.4 272.3,416.4 274.8,408.9 280,405 281.3,397.8 288.8,388.4 285,380.9 292.6,371.5 294.8,367 300.5,356.6 307.6,349 313.7,345.3"/>
<polygon transform="translate(6.00,7.02)" stroke="#7f8183" stroke-width="3" stroke-linejoin="round" points="216.6,475.6 220.4,481.3 216.6,488.8 217.6,500 215.7,511.4 216.6,520.8 224.2,519 231.7,513.3 241,507.6 244.8,498.2 245.2,497.8 254.2,496.3 261.8,490.7 269.3,488.8 280.6,487.9 282.5,494.5 283.4,507.6 286.2,522.7 289,528 278.7,532 269.3,537.7 261.8,543.4 250.5,547.1 245,549 242.4,557 238.6,555 233,547.5 229.2,545.6 226,547.1 222.3,558.4 220.4,571.6 219,585 218,596.4 214.2,604 206.6,607.7 195.3,611.5 184,615.2 170.9,617.1 165.2,615.2 161.5,605.8 157.5,602 157.5,585 161.5,575.5 169,568.5 177,563 181.5,556 185.5,546 189,538 182.5,535.8 173,530.5 165.8,524.5 159,520 159.5,514.5 168,512.3 175,508.5 179,500 182,490 186,486.5 194,483.2 205.3,477.5"/>
<polygon transform="translate(6.00,7.02)" stroke="#7f8183" stroke-width="3" stroke-linejoin="round" points="179.5,450 186,451 193,453 200.5,454.2 208,453 218.2,449.2 225.7,446.6 230.8,446.6 235.8,450.4 238.3,460.5 239.6,470.6 242,482 243.4,490 245.2,497.8 244.8,498.2 241,507.6 231.7,513.3 224.2,519 216.6,520.8 215.7,511.4 217.6,500 216.6,488.8 220.4,481.3 216.6,475.6 205.3,477.5 194,483.2 186,486.5 182,490 179,500 175,508.5 168,512.3 159.5,514.5 159,520 165.8,524.5 173,530.5 182.5,535.8 189,538 185.5,546 181.5,556 177,563 169,568.5 161.5,575.5 157.5,585 157.5,602 151.6,602.2 132.7,603.4 113.7,604.5 104.2,601 109,596.3 118.4,585.6 125.5,571.4 129.1,554.8 131.5,545.3 137.4,531 141,519.2 146.9,502.7 151.6,490.8 161,479 168.2,469.5 171.8,460 175.3,455.5"/>
<polygon transform="translate(7.00,8.19)" stroke="#7f8183" stroke-width="3" stroke-linejoin="round" points="340,117 344,119.5 348,118.5 352,121 356,120 360,121.5 364,119.5 368,120.5 372,119 376,120.5 380,118.8 384,120.5 388,119.5 392,121 396,119.8 400,121.2 405,120 409,121 413,119.3 418,119.5 423,118 428,117.6 431,112 432.5,105 437,103 441,104.5 443.5,112 446,113 449,116 452,116.5 456,119.5 460,118 464,119 468,118 471,118.5 472,124 471.5,131 466,131.5 460,134 459,139 455,146 448.6,151.4 440.8,157.3 432,160.8 424,167 417,174 411,183.4 402,187 389,187.5 383,181.5 368,178.7 349,177.8 344,170 343,162.7 334,159 337,150 339.5,142 340,130"/>
<polygon transform="translate(7.00,8.19)" stroke="#7f8183" stroke-width="3" stroke-linejoin="round" points="334,159 343,162.7 344,170 349,177.8 368,178.7 383,181.5 389,187.5 392,191 394.5,198 394,206 392,212 386.5,219 382,226 377,234 373.6,240.2 368.6,246.5 363.5,250.3 358.5,254 353.5,260.3 352.2,267.9 349.7,276.7 345.9,274.2 338.4,270.4 329.5,267.9 317,270.4 310.6,267.9 305.6,262.9 295.5,261 288,261.6 281.7,259.7 269,260.3 260.3,257.8 251.4,252.8 252.7,244 252,234 255.2,227.6 256.5,222.6 262.8,220 269,217 273,215 274,209 278,200.4 288,195.3 295.5,187.8 298,181.5 296.2,175.2 303,175.2 313.2,171.4 320.7,168.9 325.8,163.9"/>
<polygon transform="translate(7.00,8.19)" stroke="#7f8183" stroke-width="3" stroke-linejoin="round" points="389,187.5 402,187 411,183.4 417,174 424,167 432,160.8 439,157 452,159 465.5,160 473,166.5 480.6,176 489,181 495.6,185.3 497.5,194.7 494,204 497.5,209.4 503,218.8 508.8,224.5 507,230 508.8,237.6 510.7,249 516.3,256.4 507,265.8 499.4,275.2 493.8,284.7 488,294 482,300 467.5,303.8 458,311.3 448.7,318.8 439.3,326.3 431.8,335.7 426,345 424.3,350.8 431.8,354.5 443,360.2 450.6,364 452.5,371.5 446.8,375.2 435.5,373.4 424.3,369.6 416.7,365.8 407.3,371.5 399.8,373.4 390.4,368.7 382.9,371.5 375.3,375.2 371.6,369.6 372.5,362 366,359.3 354.6,360.2 349,358.3 345.2,350.8 334,345.1 326.4,344.2 321,342 315.5,334 316,329 322.7,320.7 328.7,315.2 332,311.3 336.2,304 341.9,296.4 347.5,287 349.4,279.5 349.7,276.7 352.2,267.9 353.5,260.3 358.5,254 363.5,250.3 368.6,246.5 373.6,240.2 377,234 382,226 386.5,219 392,212 394,206 394.5,198 392,191"/>
<polygon transform="translate(7.00,8.19)" stroke="#7f8183" stroke-width="3" stroke-linejoin="round" points="251.4,252.8 260.3,257.8 269,260.3 281.7,259.7 288,261.6 295.5,261 305.6,262.9 310.6,267.9 317,270.4 329.5,267.9 338.4,270.4 345.9,274.2 349.7,276.7 349.4,279.5 347.5,287 341.9,296.4 336.2,304 332,311.3 328.7,315.2 322.7,320.7 316,329 315.5,334 321,342 313.7,345.3 307.6,349 300.5,356.6 294.8,367 292.6,371.5 285,380.9 288.8,388.4 281.3,397.8 280,405 274.8,408.9 272.3,416.4 267.3,421.4 262.2,430.3 257.2,439 254.7,447.9 252.2,456.7 247.1,461.8 244.6,470.6 242,482 239.6,470.6 238.3,460.5 235.8,450.4 230.8,446.6 225.7,446.6 218.2,449.2 208,453 200.5,454.2 193,453 186,451 179.5,450 180.4,442.9 182.9,435.3 185.4,426.5 186.7,417.7 191.7,413.9 194.2,405 196.8,395 200.4,390.5 204.2,380.5 205.4,370.4 206.7,361.6 210,355 219.3,351.5 225.6,350.2 230.6,346.4 233.1,338.9 238.2,330 245.7,320.5 244.5,311.5 247,300 247.7,290.6 249,281.7 245.8,271.7 245.2,262.9 250.2,254"/>
<polygon transform="translate(7.00,8.19)" stroke="#7f8183" stroke-width="3" stroke-linejoin="round" points="321,342 326.4,344.2 334,345.1 345.2,350.8 349,358.3 354.6,360.2 366,359.3 372.5,362 369.7,373.4 362.2,382.8 352.8,390.3 349,399.7 343,407.5 335.5,415 335.5,422.6 329.9,430 333.7,433.9 343,437.6 354.3,445 363.8,452.7 358,460.2 345,465.8 331.8,473.4 331.8,482.8 326.1,490.3 316.7,499.7 305.4,507.2 297.9,516.6 292.3,526 289,528 286.2,522.7 283.4,507.6 282.5,494.5 280.6,487.9 269.3,488.8 261.8,490.7 254.2,496.3 245.2,497.8 243.4,490 242,482 244.6,470.6 247.1,461.8 252.2,456.7 254.7,447.9 257.2,439 262.2,430.3 267.3,421.4 272.3,416.4 274.8,408.9 280,405 281.3,397.8 288.8,388.4 285,380.9 292.6,371.5 294.8,367 300.5,356.6 307.6,349 313.7,345.3"/>
<polygon transform="translate(7.00,8.19)" stroke="#7f8183" stroke-width="3" stroke-linejoin="round" points="216.6,475.6 220.4,481.3 216.6,488.8 217.6,500 215.7,511.4 216.6,520.8 224.2,519 231.7,513.3 241,507.6 244.8,498.2 245.2,497.8 254.2,496.3 261.8,490.7 269.3,488.8 280.6,487.9 282.5,494.5 283.4,507.6 286.2,522.7 289,528 278.7,532 269.3,537.7 261.8,543.4 250.5,547.1 245,549 242.4,557 238.6,555 233,547.5 229.2,545.6 226,547.1 222.3,558.4 220.4,571.6 219,585 218,596.4 214.2,604 206.6,607.7 195.3,611.5 184,615.2 170.9,617.1 165.2,615.2 161.5,605.8 157.5,602 157.5,585 161.5,575.5 169,568.5 177,563 181.5,556 185.5,546 189,538 182.5,535.8 173,530.5 165.8,524.5 159,520 159.5,514.5 168,512.3 175,508.5 179,500 182,490 186,486.5 194,483.2 205.3,477.5"/>
<polygon transform="translate(7.00,8.19)" stroke="#7f8183" stroke-width="3" stroke-linejoin="round" points="179.5,450 186,451 193,453 200.5,454.2 208,453 218.2,449.2 225.7,446.6 230.8,446.6 235.8,450.4 238.3,460.5 239.6,470.6 242,482 243.4,490 245.2,497.8 244.8,498.2 241,507.6 231.7,513.3 224.2,519 216.6,520.8 215.7,511.4 217.6,500 216.6,488.8 220.4,481.3 216.6,475.6 205.3,477.5 194,483.2 186,486.5 182,490 179,500 175,508.5 168,512.3 159.5,514.5 159,520 165.8,524.5 173,530.5 182.5,535.8 189,538 185.5,546 181.5,556 177,563 169,568.5 161.5,575.5 157.5,585 157.5,602 151.6,602.2 132.7,603.4 113.7,604.5 104.2,601 109,596.3 118.4,585.6 125.5,571.4 129.1,554.8 131.5,545.3 137.4,531 141,519.2 146.9,502.7 151.6,490.8 161,479 168.2,469.5 171.8,460 175.3,455.5"/>
<polygon transform="translate(8.00,9.36)" stroke="#7f8183" stroke-width="3" stroke-linejoin="round" points="340,117 344,119.5 348,118.5 352,121 356,120 360,121.5 364,119.5 368,120.5 372,119 376,120.5 380,118.8 384,120.5 388,119.5 392,121 396,119.8 400,121.2 405,120 409,121 413,119.3 418,119.5 423,118 428,117.6 431,112 432.5,105 437,103 441,104.5 443.5,112 446,113 449,116 452,116.5 456,119.5 460,118 464,119 468,118 471,118.5 472,124 471.5,131 466,131.5 460,134 459,139 455,146 448.6,151.4 440.8,157.3 432,160.8 424,167 417,174 411,183.4 402,187 389,187.5 383,181.5 368,178.7 349,177.8 344,170 343,162.7 334,159 337,150 339.5,142 340,130"/>
<polygon transform="translate(8.00,9.36)" stroke="#7f8183" stroke-width="3" stroke-linejoin="round" points="334,159 343,162.7 344,170 349,177.8 368,178.7 383,181.5 389,187.5 392,191 394.5,198 394,206 392,212 386.5,219 382,226 377,234 373.6,240.2 368.6,246.5 363.5,250.3 358.5,254 353.5,260.3 352.2,267.9 349.7,276.7 345.9,274.2 338.4,270.4 329.5,267.9 317,270.4 310.6,267.9 305.6,262.9 295.5,261 288,261.6 281.7,259.7 269,260.3 260.3,257.8 251.4,252.8 252.7,244 252,234 255.2,227.6 256.5,222.6 262.8,220 269,217 273,215 274,209 278,200.4 288,195.3 295.5,187.8 298,181.5 296.2,175.2 303,175.2 313.2,171.4 320.7,168.9 325.8,163.9"/>
<polygon transform="translate(8.00,9.36)" stroke="#7f8183" stroke-width="3" stroke-linejoin="round" points="389,187.5 402,187 411,183.4 417,174 424,167 432,160.8 439,157 452,159 465.5,160 473,166.5 480.6,176 489,181 495.6,185.3 497.5,194.7 494,204 497.5,209.4 503,218.8 508.8,224.5 507,230 508.8,237.6 510.7,249 516.3,256.4 507,265.8 499.4,275.2 493.8,284.7 488,294 482,300 467.5,303.8 458,311.3 448.7,318.8 439.3,326.3 431.8,335.7 426,345 424.3,350.8 431.8,354.5 443,360.2 450.6,364 452.5,371.5 446.8,375.2 435.5,373.4 424.3,369.6 416.7,365.8 407.3,371.5 399.8,373.4 390.4,368.7 382.9,371.5 375.3,375.2 371.6,369.6 372.5,362 366,359.3 354.6,360.2 349,358.3 345.2,350.8 334,345.1 326.4,344.2 321,342 315.5,334 316,329 322.7,320.7 328.7,315.2 332,311.3 336.2,304 341.9,296.4 347.5,287 349.4,279.5 349.7,276.7 352.2,267.9 353.5,260.3 358.5,254 363.5,250.3 368.6,246.5 373.6,240.2 377,234 382,226 386.5,219 392,212 394,206 394.5,198 392,191"/>
<polygon transform="translate(8.00,9.36)" stroke="#7f8183" stroke-width="3" stroke-linejoin="round" points="251.4,252.8 260.3,257.8 269,260.3 281.7,259.7 288,261.6 295.5,261 305.6,262.9 310.6,267.9 317,270.4 329.5,267.9 338.4,270.4 345.9,274.2 349.7,276.7 349.4,279.5 347.5,287 341.9,296.4 336.2,304 332,311.3 328.7,315.2 322.7,320.7 316,329 315.5,334 321,342 313.7,345.3 307.6,349 300.5,356.6 294.8,367 292.6,371.5 285,380.9 288.8,388.4 281.3,397.8 280,405 274.8,408.9 272.3,416.4 267.3,421.4 262.2,430.3 257.2,439 254.7,447.9 252.2,456.7 247.1,461.8 244.6,470.6 242,482 239.6,470.6 238.3,460.5 235.8,450.4 230.8,446.6 225.7,446.6 218.2,449.2 208,453 200.5,454.2 193,453 186,451 179.5,450 180.4,442.9 182.9,435.3 185.4,426.5 186.7,417.7 191.7,413.9 194.2,405 196.8,395 200.4,390.5 204.2,380.5 205.4,370.4 206.7,361.6 210,355 219.3,351.5 225.6,350.2 230.6,346.4 233.1,338.9 238.2,330 245.7,320.5 244.5,311.5 247,300 247.7,290.6 249,281.7 245.8,271.7 245.2,262.9 250.2,254"/>
<polygon transform="translate(8.00,9.36)" stroke="#7f8183" stroke-width="3" stroke-linejoin="round" points="321,342 326.4,344.2 334,345.1 345.2,350.8 349,358.3 354.6,360.2 366,359.3 372.5,362 369.7,373.4 362.2,382.8 352.8,390.3 349,399.7 343,407.5 335.5,415 335.5,422.6 329.9,430 333.7,433.9 343,437.6 354.3,445 363.8,452.7 358,460.2 345,465.8 331.8,473.4 331.8,482.8 326.1,490.3 316.7,499.7 305.4,507.2 297.9,516.6 292.3,526 289,528 286.2,522.7 283.4,507.6 282.5,494.5 280.6,487.9 269.3,488.8 261.8,490.7 254.2,496.3 245.2,497.8 243.4,490 242,482 244.6,470.6 247.1,461.8 252.2,456.7 254.7,447.9 257.2,439 262.2,430.3 267.3,421.4 272.3,416.4 274.8,408.9 280,405 281.3,397.8 288.8,388.4 285,380.9 292.6,371.5 294.8,367 300.5,356.6 307.6,349 313.7,345.3"/>
<polygon transform="translate(8.00,9.36)" stroke="#7f8183" stroke-width="3" stroke-linejoin="round" points="216.6,475.6 220.4,481.3 216.6,488.8 217.6,500 215.7,511.4 216.6,520.8 224.2,519 231.7,513.3 241,507.6 244.8,498.2 245.2,497.8 254.2,496.3 261.8,490.7 269.3,488.8 280.6,487.9 282.5,494.5 283.4,507.6 286.2,522.7 289,528 278.7,532 269.3,537.7 261.8,543.4 250.5,547.1 245,549 242.4,557 238.6,555 233,547.5 229.2,545.6 226,547.1 222.3,558.4 220.4,571.6 219,585 218,596.4 214.2,604 206.6,607.7 195.3,611.5 184,615.2 170.9,617.1 165.2,615.2 161.5,605.8 157.5,602 157.5,585 161.5,575.5 169,568.5 177,563 181.5,556 185.5,546 189,538 182.5,535.8 173,530.5 165.8,524.5 159,520 159.5,514.5 168,512.3 175,508.5 179,500 182,490 186,486.5 194,483.2 205.3,477.5"/>
<polygon transform="translate(8.00,9.36)" stroke="#7f8183" stroke-width="3" stroke-linejoin="round" points="179.5,450 186,451 193,453 200.5,454.2 208,453 218.2,449.2 225.7,446.6 230.8,446.6 235.8,450.4 238.3,460.5 239.6,470.6 242,482 243.4,490 245.2,497.8 244.8,498.2 241,507.6 231.7,513.3 224.2,519 216.6,520.8 215.7,511.4 217.6,500 216.6,488.8 220.4,481.3 216.6,475.6 205.3,477.5 194,483.2 186,486.5 182,490 179,500 175,508.5 168,512.3 159.5,514.5 159,520 165.8,524.5 173,530.5 182.5,535.8 189,538 185.5,546 181.5,556 177,563 169,568.5 161.5,575.5 157.5,585 157.5,602 151.6,602.2 132.7,603.4 113.7,604.5 104.2,601 109,596.3 118.4,585.6 125.5,571.4 129.1,554.8 131.5,545.3 137.4,531 141,519.2 146.9,502.7 151.6,490.8 161,479 168.2,469.5 171.8,460 175.3,455.5"/>
<polygon transform="translate(9.00,10.53)" stroke="#7f8183" stroke-width="3" stroke-linejoin="round" points="340,117 344,119.5 348,118.5 352,121 356,120 360,121.5 364,119.5 368,120.5 372,119 376,120.5 380,118.8 384,120.5 388,119.5 392,121 396,119.8 400,121.2 405,120 409,121 413,119.3 418,119.5 423,118 428,117.6 431,112 432.5,105 437,103 441,104.5 443.5,112 446,113 449,116 452,116.5 456,119.5 460,118 464,119 468,118 471,118.5 472,124 471.5,131 466,131.5 460,134 459,139 455,146 448.6,151.4 440.8,157.3 432,160.8 424,167 417,174 411,183.4 402,187 389,187.5 383,181.5 368,178.7 349,177.8 344,170 343,162.7 334,159 337,150 339.5,142 340,130"/>
<polygon transform="translate(9.00,10.53)" stroke="#7f8183" stroke-width="3" stroke-linejoin="round" points="334,159 343,162.7 344,170 349,177.8 368,178.7 383,181.5 389,187.5 392,191 394.5,198 394,206 392,212 386.5,219 382,226 377,234 373.6,240.2 368.6,246.5 363.5,250.3 358.5,254 353.5,260.3 352.2,267.9 349.7,276.7 345.9,274.2 338.4,270.4 329.5,267.9 317,270.4 310.6,267.9 305.6,262.9 295.5,261 288,261.6 281.7,259.7 269,260.3 260.3,257.8 251.4,252.8 252.7,244 252,234 255.2,227.6 256.5,222.6 262.8,220 269,217 273,215 274,209 278,200.4 288,195.3 295.5,187.8 298,181.5 296.2,175.2 303,175.2 313.2,171.4 320.7,168.9 325.8,163.9"/>
<polygon transform="translate(9.00,10.53)" stroke="#7f8183" stroke-width="3" stroke-linejoin="round" points="389,187.5 402,187 411,183.4 417,174 424,167 432,160.8 439,157 452,159 465.5,160 473,166.5 480.6,176 489,181 495.6,185.3 497.5,194.7 494,204 497.5,209.4 503,218.8 508.8,224.5 507,230 508.8,237.6 510.7,249 516.3,256.4 507,265.8 499.4,275.2 493.8,284.7 488,294 482,300 467.5,303.8 458,311.3 448.7,318.8 439.3,326.3 431.8,335.7 426,345 424.3,350.8 431.8,354.5 443,360.2 450.6,364 452.5,371.5 446.8,375.2 435.5,373.4 424.3,369.6 416.7,365.8 407.3,371.5 399.8,373.4 390.4,368.7 382.9,371.5 375.3,375.2 371.6,369.6 372.5,362 366,359.3 354.6,360.2 349,358.3 345.2,350.8 334,345.1 326.4,344.2 321,342 315.5,334 316,329 322.7,320.7 328.7,315.2 332,311.3 336.2,304 341.9,296.4 347.5,287 349.4,279.5 349.7,276.7 352.2,267.9 353.5,260.3 358.5,254 363.5,250.3 368.6,246.5 373.6,240.2 377,234 382,226 386.5,219 392,212 394,206 394.5,198 392,191"/>
<polygon transform="translate(9.00,10.53)" stroke="#7f8183" stroke-width="3" stroke-linejoin="round" points="251.4,252.8 260.3,257.8 269,260.3 281.7,259.7 288,261.6 295.5,261 305.6,262.9 310.6,267.9 317,270.4 329.5,267.9 338.4,270.4 345.9,274.2 349.7,276.7 349.4,279.5 347.5,287 341.9,296.4 336.2,304 332,311.3 328.7,315.2 322.7,320.7 316,329 315.5,334 321,342 313.7,345.3 307.6,349 300.5,356.6 294.8,367 292.6,371.5 285,380.9 288.8,388.4 281.3,397.8 280,405 274.8,408.9 272.3,416.4 267.3,421.4 262.2,430.3 257.2,439 254.7,447.9 252.2,456.7 247.1,461.8 244.6,470.6 242,482 239.6,470.6 238.3,460.5 235.8,450.4 230.8,446.6 225.7,446.6 218.2,449.2 208,453 200.5,454.2 193,453 186,451 179.5,450 180.4,442.9 182.9,435.3 185.4,426.5 186.7,417.7 191.7,413.9 194.2,405 196.8,395 200.4,390.5 204.2,380.5 205.4,370.4 206.7,361.6 210,355 219.3,351.5 225.6,350.2 230.6,346.4 233.1,338.9 238.2,330 245.7,320.5 244.5,311.5 247,300 247.7,290.6 249,281.7 245.8,271.7 245.2,262.9 250.2,254"/>
<polygon transform="translate(9.00,10.53)" stroke="#7f8183" stroke-width="3" stroke-linejoin="round" points="321,342 326.4,344.2 334,345.1 345.2,350.8 349,358.3 354.6,360.2 366,359.3 372.5,362 369.7,373.4 362.2,382.8 352.8,390.3 349,399.7 343,407.5 335.5,415 335.5,422.6 329.9,430 333.7,433.9 343,437.6 354.3,445 363.8,452.7 358,460.2 345,465.8 331.8,473.4 331.8,482.8 326.1,490.3 316.7,499.7 305.4,507.2 297.9,516.6 292.3,526 289,528 286.2,522.7 283.4,507.6 282.5,494.5 280.6,487.9 269.3,488.8 261.8,490.7 254.2,496.3 245.2,497.8 243.4,490 242,482 244.6,470.6 247.1,461.8 252.2,456.7 254.7,447.9 257.2,439 262.2,430.3 267.3,421.4 272.3,416.4 274.8,408.9 280,405 281.3,397.8 288.8,388.4 285,380.9 292.6,371.5 294.8,367 300.5,356.6 307.6,349 313.7,345.3"/>
<polygon transform="translate(9.00,10.53)" stroke="#7f8183" stroke-width="3" stroke-linejoin="round" points="216.6,475.6 220.4,481.3 216.6,488.8 217.6,500 215.7,511.4 216.6,520.8 224.2,519 231.7,513.3 241,507.6 244.8,498.2 245.2,497.8 254.2,496.3 261.8,490.7 269.3,488.8 280.6,487.9 282.5,494.5 283.4,507.6 286.2,522.7 289,528 278.7,532 269.3,537.7 261.8,543.4 250.5,547.1 245,549 242.4,557 238.6,555 233,547.5 229.2,545.6 226,547.1 222.3,558.4 220.4,571.6 219,585 218,596.4 214.2,604 206.6,607.7 195.3,611.5 184,615.2 170.9,617.1 165.2,615.2 161.5,605.8 157.5,602 157.5,585 161.5,575.5 169,568.5 177,563 181.5,556 185.5,546 189,538 182.5,535.8 173,530.5 165.8,524.5 159,520 159.5,514.5 168,512.3 175,508.5 179,500 182,490 186,486.5 194,483.2 205.3,477.5"/>
<polygon transform="translate(9.00,10.53)" stroke="#7f8183" stroke-width="3" stroke-linejoin="round" points="179.5,450 186,451 193,453 200.5,454.2 208,453 218.2,449.2 225.7,446.6 230.8,446.6 235.8,450.4 238.3,460.5 239.6,470.6 242,482 243.4,490 245.2,497.8 244.8,498.2 241,507.6 231.7,513.3 224.2,519 216.6,520.8 215.7,511.4 217.6,500 216.6,488.8 220.4,481.3 216.6,475.6 205.3,477.5 194,483.2 186,486.5 182,490 179,500 175,508.5 168,512.3 159.5,514.5 159,520 165.8,524.5 173,530.5 182.5,535.8 189,538 185.5,546 181.5,556 177,563 169,568.5 161.5,575.5 157.5,585 157.5,602 151.6,602.2 132.7,603.4 113.7,604.5 104.2,601 109,596.3 118.4,585.6 125.5,571.4 129.1,554.8 131.5,545.3 137.4,531 141,519.2 146.9,502.7 151.6,490.8 161,479 168.2,469.5 171.8,460 175.3,455.5"/>
</g>
<g stroke="#fdf2df" stroke-width="1.6" stroke-linejoin="round">
<polygon fill="#b8483d" points="340,117 344,119.5 348,118.5 352,121 356,120 360,121.5 364,119.5 368,120.5 372,119 376,120.5 380,118.8 384,120.5 388,119.5 392,121 396,119.8 400,121.2 405,120 409,121 413,119.3 418,119.5 423,118 428,117.6 431,112 432.5,105 437,103 441,104.5 443.5,112 446,113 449,116 452,116.5 456,119.5 460,118 464,119 468,118 471,118.5 472,124 471.5,131 466,131.5 460,134 459,139 455,146 448.6,151.4 440.8,157.3 432,160.8 424,167 417,174 411,183.4 402,187 389,187.5 383,181.5 368,178.7 349,177.8 344,170 343,162.7 334,159 337,150 339.5,142 340,130"/>
<polygon fill="#e86a58" points="334,159 343,162.7 344,170 349,177.8 368,178.7 383,181.5 389,187.5 392,191 394.5,198 394,206 392,212 386.5,219 382,226 377,234 373.6,240.2 368.6,246.5 363.5,250.3 358.5,254 353.5,260.3 352.2,267.9 349.7,276.7 345.9,274.2 338.4,270.4 329.5,267.9 317,270.4 310.6,267.9 305.6,262.9 295.5,261 288,261.6 281.7,259.7 269,260.3 260.3,257.8 251.4,252.8 252.7,244 252,234 255.2,227.6 256.5,222.6 262.8,220 269,217 273,215 274,209 278,200.4 288,195.3 295.5,187.8 298,181.5 296.2,175.2 303,175.2 313.2,171.4 320.7,168.9 325.8,163.9"/>
<polygon fill="#d9571f" points="389,187.5 402,187 411,183.4 417,174 424,167 432,160.8 439,157 452,159 465.5,160 473,166.5 480.6,176 489,181 495.6,185.3 497.5,194.7 494,204 497.5,209.4 503,218.8 508.8,224.5 507,230 508.8,237.6 510.7,249 516.3,256.4 507,265.8 499.4,275.2 493.8,284.7 488,294 482,300 467.5,303.8 458,311.3 448.7,318.8 439.3,326.3 431.8,335.7 426,345 424.3,350.8 431.8,354.5 443,360.2 450.6,364 452.5,371.5 446.8,375.2 435.5,373.4 424.3,369.6 416.7,365.8 407.3,371.5 399.8,373.4 390.4,368.7 382.9,371.5 375.3,375.2 371.6,369.6 372.5,362 366,359.3 354.6,360.2 349,358.3 345.2,350.8 334,345.1 326.4,344.2 321,342 315.5,334 316,329 322.7,320.7 328.7,315.2 332,311.3 336.2,304 341.9,296.4 347.5,287 349.4,279.5 349.7,276.7 352.2,267.9 353.5,260.3 358.5,254 363.5,250.3 368.6,246.5 373.6,240.2 377,234 382,226 386.5,219 392,212 394,206 394.5,198 392,191"/>
<polygon fill="#fbb62a" points="251.4,252.8 260.3,257.8 269,260.3 281.7,259.7 288,261.6 295.5,261 305.6,262.9 310.6,267.9 317,270.4 329.5,267.9 338.4,270.4 345.9,274.2 349.7,276.7 349.4,279.5 347.5,287 341.9,296.4 336.2,304 332,311.3 328.7,315.2 322.7,320.7 316,329 315.5,334 321,342 313.7,345.3 307.6,349 300.5,356.6 294.8,367 292.6,371.5 285,380.9 288.8,388.4 281.3,397.8 280,405 274.8,408.9 272.3,416.4 267.3,421.4 262.2,430.3 257.2,439 254.7,447.9 252.2,456.7 247.1,461.8 244.6,470.6 242,482 239.6,470.6 238.3,460.5 235.8,450.4 230.8,446.6 225.7,446.6 218.2,449.2 208,453 200.5,454.2 193,453 186,451 179.5,450 180.4,442.9 182.9,435.3 185.4,426.5 186.7,417.7 191.7,413.9 194.2,405 196.8,395 200.4,390.5 204.2,380.5 205.4,370.4 206.7,361.6 210,355 219.3,351.5 225.6,350.2 230.6,346.4 233.1,338.9 238.2,330 245.7,320.5 244.5,311.5 247,300 247.7,290.6 249,281.7 245.8,271.7 245.2,262.9 250.2,254"/>
<polygon fill="#b97b29" points="321,342 326.4,344.2 334,345.1 345.2,350.8 349,358.3 354.6,360.2 366,359.3 372.5,362 369.7,373.4 362.2,382.8 352.8,390.3 349,399.7 343,407.5 335.5,415 335.5,422.6 329.9,430 333.7,433.9 343,437.6 354.3,445 363.8,452.7 358,460.2 345,465.8 331.8,473.4 331.8,482.8 326.1,490.3 316.7,499.7 305.4,507.2 297.9,516.6 292.3,526 289,528 286.2,522.7 283.4,507.6 282.5,494.5 280.6,487.9 269.3,488.8 261.8,490.7 254.2,496.3 245.2,497.8 243.4,490 242,482 244.6,470.6 247.1,461.8 252.2,456.7 254.7,447.9 257.2,439 262.2,430.3 267.3,421.4 272.3,416.4 274.8,408.9 280,405 281.3,397.8 288.8,388.4 285,380.9 292.6,371.5 294.8,367 300.5,356.6 307.6,349 313.7,345.3"/>
<polygon fill="#f7a43a" points="216.6,475.6 220.4,481.3 216.6,488.8 217.6,500 215.7,511.4 216.6,520.8 224.2,519 231.7,513.3 241,507.6 244.8,498.2 245.2,497.8 254.2,496.3 261.8,490.7 269.3,488.8 280.6,487.9 282.5,494.5 283.4,507.6 286.2,522.7 289,528 278.7,532 269.3,537.7 261.8,543.4 250.5,547.1 245,549 242.4,557 238.6,555 233,547.5 229.2,545.6 226,547.1 222.3,558.4 220.4,571.6 219,585 218,596.4 214.2,604 206.6,607.7 195.3,611.5 184,615.2 170.9,617.1 165.2,615.2 161.5,605.8 157.5,602 157.5,585 161.5,575.5 169,568.5 177,563 181.5,556 185.5,546 189,538 182.5,535.8 173,530.5 165.8,524.5 159,520 159.5,514.5 168,512.3 175,508.5 179,500 182,490 186,486.5 194,483.2 205.3,477.5"/>
<polygon fill="#fbc76a" points="179.5,450 186,451 193,453 200.5,454.2 208,453 218.2,449.2 225.7,446.6 230.8,446.6 235.8,450.4 238.3,460.5 239.6,470.6 242,482 243.4,490 245.2,497.8 244.8,498.2 241,507.6 231.7,513.3 224.2,519 216.6,520.8 215.7,511.4 217.6,500 216.6,488.8 220.4,481.3 216.6,475.6 205.3,477.5 194,483.2 186,486.5 182,490 179,500 175,508.5 168,512.3 159.5,514.5 159,520 165.8,524.5 173,530.5 182.5,535.8 189,538 185.5,546 181.5,556 177,563 169,568.5 161.5,575.5 157.5,585 157.5,602 151.6,602.2 132.7,603.4 113.7,604.5 104.2,601 109,596.3 118.4,585.6 125.5,571.4 129.1,554.8 131.5,545.3 137.4,531 141,519.2 146.9,502.7 151.6,490.8 161,479 168.2,469.5 171.8,460 175.3,455.5"/>
</g>
<g stroke="#7a2a22" stroke-width="0.9"><line x1="303.6" y1="506" x2="303.6" y2="527"/><line x1="420.5" y1="367" x2="420.5" y2="378"/></g>
<circle cx="363.5" cy="161" r="4.5" fill="#b8483d"/>
<circle cx="313.2" cy="192.8" r="4.5" fill="#e86a58"/>
<circle cx="391.9" cy="316.4" r="4.5" fill="#d9571f"/>
<circle cx="210.2" cy="353.8" r="4.5" fill="#fbb62a"/>
<circle cx="235.6" cy="368.9" r="4.5" fill="#fbb62a"/>
<circle cx="317" cy="365.5" r="4.5" fill="#b97b29"/>
<circle cx="188.6" cy="446.4" r="4.5" fill="#fbb62a"/>
<circle cx="204" cy="498.8" r="4.5" fill="#f7a43a"/>
<g fill="none" stroke="#8a2b25" stroke-width="6.1">
<circle cx="363.5" cy="161" r="7.2"/>
<circle cx="313.2" cy="192.8" r="7.2"/>
<circle cx="391.9" cy="316.4" r="7.2"/>
<circle cx="210.2" cy="353.8" r="7.2"/>
<circle cx="235.6" cy="368.9" r="7.2"/>
<circle cx="317" cy="365.5" r="7.2"/>
<circle cx="188.6" cy="446.4" r="7.2"/>
<circle cx="204" cy="498.8" r="7.2"/>
</g>
<g fill="#fff4e6" font-family="Liberation Sans, Tajawal, Noto Sans Arabic, DejaVu Sans, sans-serif" text-anchor="middle">
<text x="395.5" y="157" font-size="9">عكار</text>
<text x="330" y="228.5" font-size="9">الشمال</text>
<text x="421" y="267" font-size="8.5">بعلبك - هرمل</text>
<text x="269" y="359" font-size="9">جبل لبنان</text>
<text x="303" y="437" font-size="8.5">البقاع</text>
<text x="215" y="537.5" font-size="9">النبطية</text>
<text x="155.2" y="552.5" font-size="9">محافظة</text>
<text x="155.2" y="561" font-size="9">الجنوب</text>
</g>
<text x="180.5" y="352.5" fill="#9a9a9a" font-size="9" text-anchor="middle" font-family="Liberation Sans, Tajawal, Noto Sans Arabic, DejaVu Sans, sans-serif">بيروت</text>
</svg><!--MAPEND-->

<!-- bottom border -->
<div style="position:absolute;left:0;top:673px;width:1200px;height:2px;background:#9a9a9a"></div>

<!-- ===== RIGHT PANEL ===== -->
<div class="a num dg" id="y2026" style="left:1024px;top:38.75px;font-size:60.39px;color:#d4381f;transform-origin:0 0;transform:scaleX(1.244)">2026</div>
<div class="a r" id="t1" style="right:189.6px;top:42.55px;font-size:25.19px;color:#505052;font-weight:500">مركز عمليات طوارئ</div>
<div class="a r" id="t2" style="right:190px;top:71.7px;font-size:25.56px;color:#505052;font-weight:500">الصحة العامة</div>

<div class="dash" style="top:109px"></div>
<div class="box" style="left:610px;top:129px;width:590px;height:114px"></div>
<div class="a r num" id="mundh" style="right:15.1px;top:143.55px;font-size:23.85px;font-weight:900;color:#b8392b">منذ بدء العدوان</div>
<div class="a num dg" id="n634" style="left:1112px;top:198.3px;font-size:30.94px;transform-origin:0 0;transform:scaleX(1.182)">634</div>
<div class="a r lab" id="shuh1" style="right:118.2px;top:209.4px;font-size:15.45px">الشهداء</div>
<div class="a num dg" id="n1586" style="left:897px;top:197px;font-size:31.02px;transform-origin:0 0;transform:scaleX(1.094)">1 586</div>
<div class="a r lab" id="isab1" style="right:340.8px;top:208.1px;font-size:15.98px">الاصابات</div>

<div class="dash" style="top:261px"></div>
<div class="box" style="left:610px;top:275px;width:475px;height:115px"></div>
<div class="box" style="left:1097px;top:275px;width:103px;height:30px"></div>
<div class="box" style="left:1097px;top:314px;width:103px;height:76px"></div>

<div class="a num dg" id="n64" style="left:992.2px;top:296.1px;font-size:21.47px;transform-origin:0 0;transform:scaleX(1.161)">64</div>
<div class="a r lab" id="shuh2" style="right:232.2px;top:299px;font-size:15.48px;font-weight:500;-webkit-text-stroke:0.3px currentColor">الشهداء</div>
<div class="a num dg" id="n142" style="left:984.6px;top:350.9px;font-size:21.1px;transform-origin:0 0;transform:scaleX(1.118)">142</div>
<div class="a r lab" id="isab2" style="right:232.2px;top:351.1px;font-size:15.47px;font-weight:500;-webkit-text-stroke:0.3px currentColor">الاصابات</div>
<div class="a r num" id="d1" style="right:11px;top:327px;font-size:15.96px;color:#b53a2c;font-weight:800">11 آذار</div>
<div class="a num dg" id="d2" style="left:1137.6px;top:351px;font-size:15.69px;color:#b53a2c;transform-origin:0 0;transform:scaleX(1.319)">2026</div>

<div class="dash" style="top:405px"></div>
<div class="dash" style="top:509.5px;left:609px"></div>

<!-- people row -->
<div class="a g" id="n47" style="left:663.6px;top:437.5px;font-size:14.36px;transform-origin:0 0;transform:scaleX(0.960)">47</div>
<div class="a g" id="n301" style="left:663.6px;top:460.4px;font-size:13.16px;transform-origin:0 0;transform:scaleX(1.046)">301</div>
<div class="a r lab" id="shuhW" style="right:428.6px;top:436.4px;font-size:15.31px;font-weight:500;-webkit-text-stroke:0.3px currentColor">الشهداء</div>
<div class="a r lab" id="isabW" style="right:428.6px;top:457.5px;font-size:15.76px;font-weight:500;-webkit-text-stroke:0.3px currentColor">الاصابات</div>
<div class="a g" id="n496" style="left:861.2px;top:434px;font-size:14.55px;transform-origin:0 0;transform:scaleX(1.058)">496</div>
<div class="a g" id="n1010" style="left:857.8px;top:459.8px;font-size:14.5px;transform-origin:0 0;transform:scaleX(0.944)">1 010</div>
<div class="a r lab" id="shuhM" style="right:224.4px;top:434.9px;font-size:15.46px;font-weight:500;-webkit-text-stroke:0.3px currentColor">الشهداء</div>
<div class="a r lab" id="isabM" style="right:225px;top:456.2px;font-size:15.76px;font-weight:500;-webkit-text-stroke:0.3px currentColor">الاصابات</div>
<div class="a g" id="n91" style="left:1097.8px;top:434.9px;font-size:15.03px;transform-origin:0 0;transform:scaleX(0.789)">91</div>
<div class="a g" id="n275" style="left:1097.8px;top:459.8px;font-size:14.49px;transform-origin:0 0;transform:scaleX(0.993)">275</div>
<div class="a r lab" id="shuhC" style="right:0.2px;top:435.1px;font-size:15.64px;font-weight:500;-webkit-text-stroke:0.3px currentColor">الشهداء</div>
<div class="a r lab" id="isabC" style="right:0.2px;top:456px;font-size:15.49px;font-weight:500;-webkit-text-stroke:0.3px currentColor">الاصابات</div>

<!-- sector -->
<div class="a r lab" id="l1a" style="left:719.7px;top:547.8px;font-size:7.4px;width:45px;text-align:center;direction:rtl;font-weight:700">المستشفيات</div>
<div class="a r lab" id="l1b" style="left:719.6px;top:556.2px;font-size:7.73px;width:45px;text-align:center;font-weight:700">المغلقة</div>
<div class="a r lab" id="l2" style="left:780.6px;top:547.2px;font-size:7.08px;width:34px;text-align:center;font-weight:700">الآليات</div>
<div class="a r lab" id="l3a" style="left:830.3px;top:543.4px;font-size:7.62px;width:44px;text-align:center;font-weight:700">مراكز طبية</div>
<div class="a r lab" id="l3b" style="left:830.9px;top:551.6px;font-size:7.59px;width:44px;text-align:center;font-weight:700">وإسعافية</div>
<div class="a r lab" id="l4a" style="left:880.5px;top:542.9px;font-size:7.99px;width:72px;text-align:center;font-weight:700">الاعتداءات على</div>
<div class="a r lab" id="l4b" style="left:880.6px;top:551.6px;font-size:7.42px;width:72px;text-align:center;font-weight:700">الجمعيات الاسعافية</div>
<div class="a r lab" id="l5" style="left:955.5px;top:546.7px;font-size:7.37px;width:36px;text-align:center;font-weight:700">الاصابات</div>
<div class="a r lab" id="l6" style="left:1002.5px;top:545.6px;font-size:7.69px;width:34px;text-align:center;font-weight:700">الشهداء</div>

<div class="a num dg" id="b5" style="left:737.8px;top:611.4px;font-size:14.32px;transform-origin:0 0;transform:scaleX(1.231)">5</div>
<div class="a num dg" id="b7" style="left:792.4px;top:611.9px;font-size:14.05px;transform-origin:0 0;transform:scaleX(1.176)">7</div>
<div class="a num dg" id="b9" style="left:847.4px;top:611.5px;font-size:13.14px;transform-origin:0 0;transform:scaleX(1.335)">9</div>
<div class="a num dg" id="b22" style="left:907px;top:612px;font-size:14.64px;transform-origin:0 0;transform:scaleX(1.330)">22</div>
<div class="a num dg" id="b45" style="left:962.2px;top:613.1px;font-size:13.69px;transform-origin:0 0;transform:scaleX(1.362)">45</div>
<div class="a num dg" id="b15" style="left:1011px;top:609.8px;font-size:14.04px;transform-origin:0 0;transform:scaleX(1.114)">15</div>

<div style="position:absolute;left:1062px;top:527px;width:129px;height:110px;border:1.5px solid #777"></div>
<div class="a r num" id="qitaa" style="right:22.5px;top:553.75px;font-size:32.48px;color:#c6452f;font-weight:800">القطاع</div>
<div class="a r num" id="sihhi" style="right:18.5px;top:582.75px;font-size:34.08px;color:#c6452f;font-weight:800">الصحي</div>

<!-- ===== HEADER LEFT ===== -->
<div class="a r" id="h1" style="right:1045px;top:38.95px;font-size:17px;color:#505052;font-weight:500">خطوط الاتصال الساخنة</div>
<div class="a r" id="h2" style="right:1045px;top:59px;font-size:17px;color:#505052;font-weight:500">للشؤون الصحية</div>
<div style="position:absolute;left:168px;top:41px;width:2px;height:33px;background:#b3332b"></div>
<div class="a" id="phone" style="left:214.2px;top:49.6px;font-size:18.55px;font-weight:700;color:#4f4f4f;transform-origin:0 0;transform:scaleX(1.014)">1214 - 1787</div>
<div style="position:absolute;left:365px;top:46px;width:148px;height:24px;border:1px solid #8c8c8c;border-right:none;background:#f2f2f2"></div>
<div style="position:absolute;left:514px;top:46px;width:30px;height:26px;background:#cf3a22"></div>
<div class="a r num" id="date" style="left:397.5px;width:100px;text-align:center;top:52.4px;font-size:13.62px;color:#b03a2c;font-weight:800">11 آذار 2026</div>

<!-- ===== FOOTER LOGO ===== -->
<div class="a r" id="gov1" style="right:1109.2px;top:630.75px;font-size:14px;font-weight:700;color:#2c7c4a">الجمهوريـة اللبنانيـة</div>
<div class="a r" id="gov2" style="right:1109.2px;top:647.4px;font-size:14px;font-weight:700;color:#c23a41">وزارة الصحـة العامة</div>

<!--ICONSSTART--><svg style="position:absolute;left:1039px;top:292px" width="29" height="27" viewBox="0 0 29 27"><path fill="#000" d="M14.5 26.5 L3 15 C-0.8 11 -0.5 4.5 4 1.8 C7.8 -0.4 12.3 0.8 14.5 4.3 C16.7 0.8 21.2 -0.4 25 1.8 C29.5 4.5 29.8 11 26 15 Z"/><polyline fill="none" stroke="#fff" stroke-width="1.3" stroke-linejoin="round" points="6,12.7 8.3,12.7 9.3,8.8 10.4,14.9 11.4,12.7 22.5,12.7"/></svg>
<svg style="position:absolute;left:1042.7px;top:339.7px" width="21.3" height="33.3" viewBox="112 98 336 516"><circle cx="280" cy="200" r="100" fill="#000"/><path fill="#000" d="M115 612 L115 425 Q115 345 195 335 L365 335 Q445 345 445 425 L445 612 Z"/><polygon fill="#fff" points="203,342 240,342 236,505 208,505"/><polygon fill="#fff" points="322,342 360,342 437,545 420,568 250,572 250,505"/><rect x="158" y="498" width="98" height="70" fill="#fff"/><rect x="178" y="514" width="64" height="38" fill="#000"/></svg>
<svg style="position:absolute;left:613px;top:424.5px" width="30" height="66.5" viewBox="44 53 262 580"><g fill="#000"><circle cx="175" cy="100" r="47"/><line x1="115" y1="192" x2="62" y2="345" stroke="#000" stroke-width="36" stroke-linecap="round"/><line x1="235" y1="192" x2="288" y2="345" stroke="#000" stroke-width="36" stroke-linecap="round"/><rect x="96" y="163" width="158" height="60" rx="30"/><polygon points="118,195 232,195 287,447 66,447"/><rect x="125" y="420" width="42" height="212" rx="20"/><rect x="184" y="420" width="42" height="212" rx="20"/><g stroke="#f0f0f0" stroke-width="9"><line x1="131" y1="228" x2="93" y2="340"/><line x1="219" y1="228" x2="257" y2="340"/></g></g></svg>
<svg style="position:absolute;left:814.5px;top:422px" width="28" height="71" viewBox="55 47 225 588"><g fill="#000"><circle cx="168" cy="95" r="48"/><path d="M55 205 Q55 155 105 155 L230 155 Q280 155 280 205 L280 236 L55 236 Z"/><rect x="55" y="200" width="45" height="188" rx="22"/><rect x="235" y="200" width="45" height="188" rx="22"/><rect x="105" y="155" width="126" height="232"/><rect x="106" y="360" width="57" height="275" rx="26"/><rect x="172" y="360" width="58" height="275" rx="26"/></g></svg>
<svg style="position:absolute;left:1030.5px;top:440.8px" width="43.3" height="52.2" viewBox="55 55 475 590"><g fill="#000"><circle cx="165" cy="122" r="64"/><circle cx="88" cy="158" r="25"/><circle cx="242" cy="158" r="25"/><rect x="88" y="133" width="154" height="40"/><path d="M55 320 Q55 225 165 225 Q275 225 275 320 L275 460 Q275 492 245 492 L85 492 Q55 492 55 460 Z"/><rect x="108" y="470" width="42" height="172" rx="20"/><rect x="178" y="470" width="42" height="172" rx="20"/><circle cx="425" cy="128" r="70"/><rect x="325" y="228" width="205" height="235" rx="95"/><rect x="370" y="430" width="42" height="215" rx="20"/><rect x="437" y="430" width="42" height="215" rx="20"/></g></svg>
<svg style="position:absolute;left:725.3px;top:578.2px" width="35" height="26.7" viewBox="65 65 715 542"><rect x="65" y="575" width="715" height="32" fill="#000"/><path d="M108 245 Q108 225 128 225 L245 225 L245 580 L108 580 Z" fill="#000"/><path d="M610 225 L725 225 Q745 225 745 245 L745 580 L610 580 Z" fill="#000"/><path d="M258 90 Q258 65 283 65 L573 65 Q598 65 598 90 L598 580 L258 580 Z" fill="#000"/><g fill="#fff"><rect x="400" y="105" width="60" height="160" rx="12"/><rect x="345" y="150" width="160" height="65" rx="12"/><rect x="140" y="305" width="60" height="80"/><rect x="140" y="445" width="60" height="80"/><rect x="300" y="305" width="55" height="80"/><rect x="395" y="305" width="55" height="80"/><rect x="495" y="305" width="55" height="80"/><rect x="300" y="445" width="55" height="80"/><rect x="390" y="445" width="70" height="125"/><rect x="495" y="445" width="55" height="80"/><rect x="650" y="305" width="60" height="80"/><rect x="650" y="445" width="60" height="80"/></g></svg>
<svg style="position:absolute;left:786.5px;top:578.2px" width="21.9" height="27.2" viewBox="75 70 450 557"><path d="M250 125 A50 50 0 0 1 350 125 Z" fill="#000"/><path d="M90 345 L90 260 Q90 135 300 135 Q510 135 510 260 L510 345 Z" fill="#000"/><path d="M125 330 L125 265 Q125 175 300 175 Q475 175 475 265 L475 330 Z" fill="#fff"/><path d="M75 345 L525 345 L525 540 Q525 565 500 565 L100 565 Q75 565 75 540 Z" fill="#000"/><rect x="125" y="545" width="55" height="82" rx="20" fill="#000"/><rect x="420" y="545" width="55" height="82" rx="20" fill="#000"/><g fill="#fff"><rect x="280" y="385" width="42" height="125" rx="8"/><rect x="237" y="427" width="128" height="42" rx="8"/><circle cx="150" cy="490" r="40"/><circle cx="450" cy="490" r="40"/></g></svg>
<svg style="position:absolute;left:836.8px;top:578.5px" width="30.7" height="26.4" viewBox="70 68 645 542"><rect x="95" y="145" width="600" height="450" fill="#000"/><rect x="70" y="578" width="645" height="32" fill="#000"/><g fill="#fff"><rect x="345" y="45" width="100" height="215" rx="30"/><rect x="285" y="105" width="220" height="100" rx="30"/></g><g fill="#000"><rect x="370" y="70" width="50" height="165"/><rect x="310" y="130" width="160" height="50"/></g><g fill="#fff"><rect x="160" y="295" width="130" height="50"/><rect x="325" y="295" width="130" height="50"/><rect x="505" y="295" width="130" height="50"/><rect x="160" y="375" width="130" height="160"/><rect x="325" y="375" width="130" height="160"/><rect x="505" y="375" width="130" height="160"/></g></svg>
<svg style="position:absolute;left:903.7px;top:576.7px" width="30" height="30" viewBox="78 80 552 534"><path d="M170 150 Q170 85 275 85 Q380 85 380 150 Z" fill="#000"/><rect x="265" y="95" width="20" height="40" fill="#fff"/><rect x="140" y="165" width="270" height="35" rx="10" fill="#000"/><ellipse cx="130" cy="268" rx="18" ry="28" fill="#000"/><ellipse cx="418" cy="268" rx="18" ry="28" fill="#000"/><path d="M150 200 L398 200 L398 280 Q398 390 274 395 Q150 390 150 280 Z" fill="#000"/><path d="M175 205 L373 205 L373 280 Q373 365 274 370 Q175 365 175 280 Z" fill="#fff"/><path d="M85 495 Q95 440 200 430 L240 430 L240 395 L310 395 L310 430 L330 430 L330 495 Z" fill="#000"/><rect x="255" y="400" width="30" height="45" fill="#fff"/><rect x="80" y="508" width="252" height="50" fill="#000"/><rect x="80" y="585" width="185" height="27" fill="#000"/><rect x="285" y="585" width="47" height="27" fill="#000"/><rect x="448" y="378" width="96" height="45" rx="15" fill="none" stroke="#000" stroke-width="18"/><rect x="365" y="410" width="262" height="202" rx="25" fill="#000"/><g fill="#fff"><rect x="478" y="470" width="34" height="82" rx="8"/><rect x="454" y="494" width="82" height="34" rx="8"/></g></svg>
<svg style="position:absolute;left:963.7px;top:577.5px" width="18.5" height="27.3" viewBox="112 98 336 516"><circle cx="280" cy="200" r="100" fill="#000"/><path fill="#000" d="M115 612 L115 425 Q115 345 195 335 L365 335 Q445 345 445 425 L445 612 Z"/><polygon fill="#fff" points="203,342 240,342 236,505 208,505"/><polygon fill="#fff" points="322,342 360,342 437,545 420,568 250,572 250,505"/><rect x="158" y="498" width="98" height="70" fill="#fff"/><rect x="178" y="514" width="64" height="38" fill="#000"/></svg>
<svg style="position:absolute;left:1004.7px;top:577.5px" width="28.5" height="25.5" viewBox="0 0 29 27"><path fill="#000" d="M14.5 26.5 L3 15 C-0.8 11 -0.5 4.5 4 1.8 C7.8 -0.4 12.3 0.8 14.5 4.3 C16.7 0.8 21.2 -0.4 25 1.8 C29.5 4.5 29.8 11 26 15 Z"/><polyline fill="none" stroke="#fff" stroke-width="1.3" stroke-linejoin="round" points="6,12.7 8.3,12.7 9.3,8.8 10.4,14.9 11.4,12.7 22.5,12.7"/></svg>
<svg style="position:absolute;left:184.7px;top:48.3px" width="21.3" height="20" viewBox="75 75 525 515"><path fill="#4d4d4d" d="M150 80 C110 85 75 130 80 200 C90 330 250 500 420 570 C480 590 560 560 590 510 C600 490 590 470 570 460 L470 410 C450 400 430 405 415 420 L380 455 C300 420 250 370 215 290 L250 255 C265 240 270 220 260 200 L205 100 C195 85 175 78 150 80 Z"/></svg>
<svg style="position:absolute;left:519.5px;top:50.5px" width="19" height="18.2" viewBox="0 0 19 19"><rect x="1" y="1.5" width="17" height="16.5" rx="3" fill="none" stroke="#fff" stroke-width="1.6"/><rect x="1" y="1.5" width="17" height="5.5" rx="2" fill="#fff"/><rect x="4" y="0" width="1.6" height="3.5" fill="#fff"/><rect x="13.4" y="0" width="1.6" height="3.5" fill="#fff"/><g fill="#fbd8cc"><rect x="3.2" y="8.6" width="2" height="1.9"/><rect x="6.5" y="8.6" width="2" height="1.9"/><rect x="9.8" y="8.6" width="2" height="1.9"/><rect x="13.1" y="8.6" width="2" height="1.9"/><rect x="3.2" y="11.5" width="2" height="1.9"/><rect x="6.5" y="11.5" width="2" height="1.9"/><rect x="9.8" y="11.5" width="2" height="1.9"/><rect x="13.1" y="11.5" width="2" height="1.9"/><rect x="3.2" y="14.4" width="2" height="1.9"/><rect x="6.5" y="14.4" width="2" height="1.9"/><rect x="9.8" y="14.4" width="2" height="1.9"/><rect x="13.1" y="14.4" width="2" height="1.9"/></g></svg>
<svg style="position:absolute;left:98.75px;top:626px" width="40.6" height="38" viewBox="55 50 615 565"><polygon fill="#1f7a43" points="350,55 395,95 380,100 430,140 410,145 470,190 450,195 520,245 495,250 570,300 545,305 620,355 595,360 665,420 630,425 660,460 470,470 460,610 270,610 270,470 120,455 60,420 100,410 75,395 130,360 105,355 170,305 150,300 210,250 190,245 250,195 230,190 290,140 270,135 320,95 305,90"/><g stroke="#e9f6ee" stroke-width="11" fill="none" stroke-linecap="round"><path d="M110 335 L200 310"/><path d="M75 400 L190 375"/><path d="M525 300 L600 318"/><path d="M545 360 L640 380"/><path d="M575 420 L655 440"/><path d="M230 250 L280 232"/></g><path fill="none" stroke="#bff0d8" stroke-width="20" d="M120 430 Q150 250 300 215 Q450 190 485 250 Q500 300 470 340"/><path fill="#d8f5e6" d="M285 610 L295 480 Q270 420 265 330 Q262 300 285 300 Q300 330 310 400 L340 380 Q340 300 330 250 Q345 240 360 255 Q375 300 370 360 L395 350 Q405 290 410 240 Q430 235 435 255 Q440 330 410 420 L420 610 L400 610 L395 520 L380 610 L360 610 L355 510 L330 610 L310 610 L315 520 Z"/><g fill="#1f7a43"><ellipse cx="292" cy="360" rx="12" ry="25"/><ellipse cx="378" cy="310" rx="12" ry="28"/></g></svg><!--ICONSEND-->
</body>
</html>
